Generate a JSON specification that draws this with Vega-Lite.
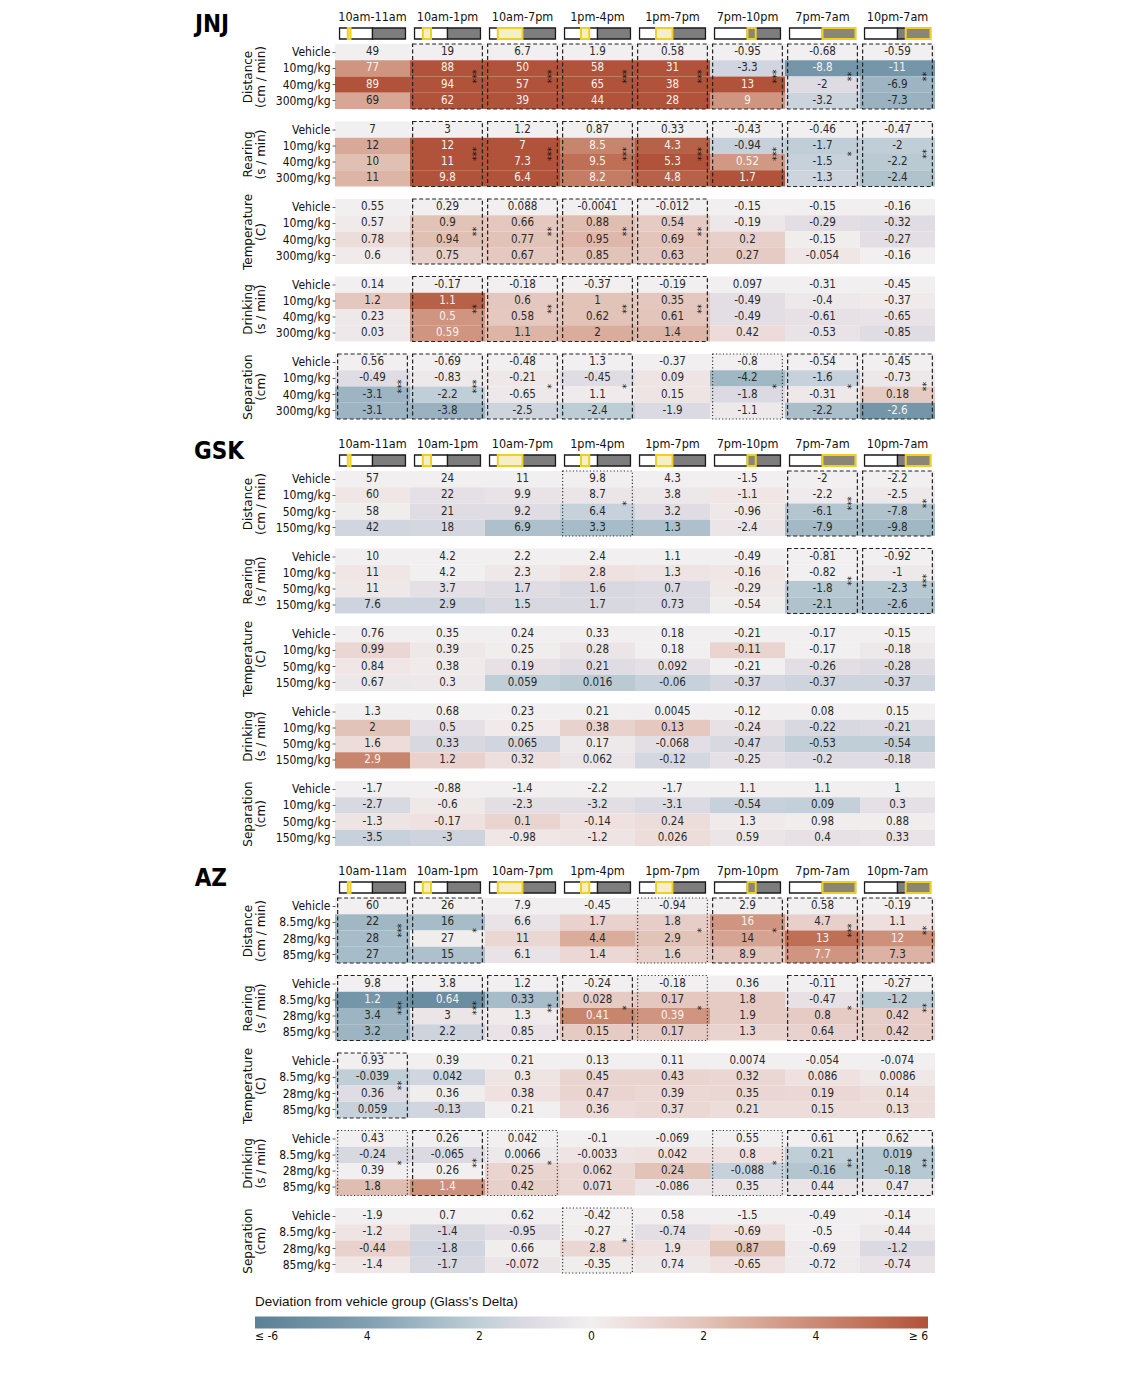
{
"$schema": "https://vega.github.io/schema/vega-lite/v6.json",
"padding": {"left": 193, "top": 10, "right": 10, "bottom": 5},
"background": "white",
"datasets": {
"icons": [
{"t":"10am-11am","k":"light","a":7,"b":19},{"t":"10am-11am","k":"dark","a":19,"b":31},{"t":"10am-11am","k":"wl","a":10,"b":11},
{"t":"10am-1pm","k":"light","a":7,"b":19},{"t":"10am-1pm","k":"dark","a":19,"b":31},{"t":"10am-1pm","k":"wl","a":10,"b":13},
{"t":"10am-7pm","k":"light","a":7,"b":19},{"t":"10am-7pm","k":"dark","a":19,"b":31},{"t":"10am-7pm","k":"wl","a":10,"b":19},
{"t":"1pm-4pm","k":"light","a":7,"b":19},{"t":"1pm-4pm","k":"dark","a":19,"b":31},{"t":"1pm-4pm","k":"wl","a":13,"b":16},
{"t":"1pm-7pm","k":"light","a":7,"b":19},{"t":"1pm-7pm","k":"dark","a":19,"b":31},{"t":"1pm-7pm","k":"wl","a":13,"b":19},
{"t":"7pm-10pm","k":"light","a":7,"b":19},{"t":"7pm-10pm","k":"dark","a":19,"b":31},{"t":"7pm-10pm","k":"wd","a":19,"b":22},
{"t":"7pm-7am","k":"light","a":7,"b":19},{"t":"7pm-7am","k":"dark","a":19,"b":31},{"t":"7pm-7am","k":"wd","a":19,"b":31},
{"t":"10pm-7am","k":"light","a":7,"b":19},{"t":"10pm-7am","k":"dark","a":19,"b":31},{"t":"10pm-7am","k":"wd","a":22,"b":31}
],
"sig": [
{"c":"JNJ","m":"Distance","t":"10am-1pm","lv":"strong","s":"***"},
{"c":"JNJ","m":"Distance","t":"10am-7pm","lv":"strong","s":"***"},
{"c":"JNJ","m":"Distance","t":"1pm-4pm","lv":"strong","s":"***"},
{"c":"JNJ","m":"Distance","t":"1pm-7pm","lv":"strong","s":"***"},
{"c":"JNJ","m":"Distance","t":"7pm-10pm","lv":"strong","s":"***"},
{"c":"JNJ","m":"Distance","t":"7pm-7am","lv":"strong","s":"**"},
{"c":"JNJ","m":"Distance","t":"10pm-7am","lv":"strong","s":"**"},
{"c":"JNJ","m":"Rearing","t":"10am-1pm","lv":"strong","s":"***"},
{"c":"JNJ","m":"Rearing","t":"10am-7pm","lv":"strong","s":"***"},
{"c":"JNJ","m":"Rearing","t":"1pm-4pm","lv":"strong","s":"***"},
{"c":"JNJ","m":"Rearing","t":"1pm-7pm","lv":"strong","s":"***"},
{"c":"JNJ","m":"Rearing","t":"7pm-10pm","lv":"strong","s":"***"},
{"c":"JNJ","m":"Rearing","t":"7pm-7am","lv":"strong","s":"*"},
{"c":"JNJ","m":"Rearing","t":"10pm-7am","lv":"strong","s":"**"},
{"c":"JNJ","m":"Temperature","t":"10am-1pm","lv":"strong","s":"**"},
{"c":"JNJ","m":"Temperature","t":"10am-7pm","lv":"strong","s":"**"},
{"c":"JNJ","m":"Temperature","t":"1pm-4pm","lv":"strong","s":"**"},
{"c":"JNJ","m":"Temperature","t":"1pm-7pm","lv":"strong","s":"**"},
{"c":"JNJ","m":"Drinking","t":"10am-1pm","lv":"strong","s":"**"},
{"c":"JNJ","m":"Drinking","t":"10am-7pm","lv":"strong","s":"**"},
{"c":"JNJ","m":"Drinking","t":"1pm-4pm","lv":"strong","s":"**"},
{"c":"JNJ","m":"Drinking","t":"1pm-7pm","lv":"strong","s":"**"},
{"c":"JNJ","m":"Separation","t":"10am-11am","lv":"strong","s":"***"},
{"c":"JNJ","m":"Separation","t":"10am-1pm","lv":"strong","s":"***"},
{"c":"JNJ","m":"Separation","t":"10am-7pm","lv":"strong","s":"*"},
{"c":"JNJ","m":"Separation","t":"1pm-4pm","lv":"strong","s":"*"},
{"c":"JNJ","m":"Separation","t":"7pm-10pm","lv":"weak","s":"*"},
{"c":"JNJ","m":"Separation","t":"7pm-7am","lv":"strong","s":"*"},
{"c":"JNJ","m":"Separation","t":"10pm-7am","lv":"strong","s":"**"},
{"c":"GSK","m":"Distance","t":"1pm-4pm","lv":"weak","s":"*"},
{"c":"GSK","m":"Distance","t":"7pm-7am","lv":"strong","s":"***"},
{"c":"GSK","m":"Distance","t":"10pm-7am","lv":"strong","s":"**"},
{"c":"GSK","m":"Rearing","t":"7pm-7am","lv":"strong","s":"**"},
{"c":"GSK","m":"Rearing","t":"10pm-7am","lv":"strong","s":"***"},
{"c":"AZ","m":"Distance","t":"10am-11am","lv":"strong","s":"***"},
{"c":"AZ","m":"Distance","t":"10am-1pm","lv":"strong","s":"*"},
{"c":"AZ","m":"Distance","t":"1pm-7pm","lv":"weak","s":"*"},
{"c":"AZ","m":"Distance","t":"7pm-10pm","lv":"strong","s":"*"},
{"c":"AZ","m":"Distance","t":"7pm-7am","lv":"strong","s":"***"},
{"c":"AZ","m":"Distance","t":"10pm-7am","lv":"strong","s":"**"},
{"c":"AZ","m":"Rearing","t":"10am-11am","lv":"strong","s":"***"},
{"c":"AZ","m":"Rearing","t":"10am-1pm","lv":"strong","s":"***"},
{"c":"AZ","m":"Rearing","t":"10am-7pm","lv":"strong","s":"**"},
{"c":"AZ","m":"Rearing","t":"1pm-4pm","lv":"strong","s":"*"},
{"c":"AZ","m":"Rearing","t":"1pm-7pm","lv":"weak","s":"*"},
{"c":"AZ","m":"Rearing","t":"7pm-7am","lv":"strong","s":"*"},
{"c":"AZ","m":"Rearing","t":"10pm-7am","lv":"strong","s":"**"},
{"c":"AZ","m":"Temperature","t":"10am-11am","lv":"strong","s":"**"},
{"c":"AZ","m":"Drinking","t":"10am-11am","lv":"weak","s":"*"},
{"c":"AZ","m":"Drinking","t":"10am-1pm","lv":"strong","s":"**"},
{"c":"AZ","m":"Drinking","t":"10am-7pm","lv":"weak","s":"*"},
{"c":"AZ","m":"Drinking","t":"7pm-10pm","lv":"weak","s":"*"},
{"c":"AZ","m":"Drinking","t":"7pm-7am","lv":"strong","s":"**"},
{"c":"AZ","m":"Drinking","t":"10pm-7am","lv":"strong","s":"**"},
{"c":"AZ","m":"Separation","t":"1pm-4pm","lv":"weak","s":"*"}
],
"cells": [
{"c":"JNJ","m":"Distance","d":"Vehicle","t":"10am-11am","v":49,"g":0},
{"c":"JNJ","m":"Distance","d":"Vehicle","t":"10am-1pm","v":19,"g":0},
{"c":"JNJ","m":"Distance","d":"Vehicle","t":"10am-7pm","v":6.7,"g":0},
{"c":"JNJ","m":"Distance","d":"Vehicle","t":"1pm-4pm","v":1.9,"g":0},
{"c":"JNJ","m":"Distance","d":"Vehicle","t":"1pm-7pm","v":0.58,"g":0},
{"c":"JNJ","m":"Distance","d":"Vehicle","t":"7pm-10pm","v":-0.95,"g":0},
{"c":"JNJ","m":"Distance","d":"Vehicle","t":"7pm-7am","v":-0.68,"g":0},
{"c":"JNJ","m":"Distance","d":"Vehicle","t":"10pm-7am","v":-0.59,"g":0},
{"c":"JNJ","m":"Distance","d":"10mg/kg","t":"10am-11am","v":77,"g":3.6},
{"c":"JNJ","m":"Distance","d":"10mg/kg","t":"10am-1pm","v":88,"g":6},
{"c":"JNJ","m":"Distance","d":"10mg/kg","t":"10am-7pm","v":50,"g":6},
{"c":"JNJ","m":"Distance","d":"10mg/kg","t":"1pm-4pm","v":58,"g":6},
{"c":"JNJ","m":"Distance","d":"10mg/kg","t":"1pm-7pm","v":31,"g":6},
{"c":"JNJ","m":"Distance","d":"10mg/kg","t":"7pm-10pm","v":-3.3,"g":-1.5},
{"c":"JNJ","m":"Distance","d":"10mg/kg","t":"7pm-7am","v":-8.8,"g":-4.6},
{"c":"JNJ","m":"Distance","d":"10mg/kg","t":"10pm-7am","v":-11,"g":-4.6},
{"c":"JNJ","m":"Distance","d":"40mg/kg","t":"10am-11am","v":89,"g":6},
{"c":"JNJ","m":"Distance","d":"40mg/kg","t":"10am-1pm","v":94,"g":6},
{"c":"JNJ","m":"Distance","d":"40mg/kg","t":"10am-7pm","v":57,"g":6},
{"c":"JNJ","m":"Distance","d":"40mg/kg","t":"1pm-4pm","v":65,"g":6},
{"c":"JNJ","m":"Distance","d":"40mg/kg","t":"1pm-7pm","v":38,"g":6},
{"c":"JNJ","m":"Distance","d":"40mg/kg","t":"7pm-10pm","v":13,"g":6},
{"c":"JNJ","m":"Distance","d":"40mg/kg","t":"7pm-7am","v":-2,"g":-1.1},
{"c":"JNJ","m":"Distance","d":"40mg/kg","t":"10pm-7am","v":-6.9,"g":-3.1},
{"c":"JNJ","m":"Distance","d":"300mg/kg","t":"10am-11am","v":69,"g":3.0},
{"c":"JNJ","m":"Distance","d":"300mg/kg","t":"10am-1pm","v":62,"g":6},
{"c":"JNJ","m":"Distance","d":"300mg/kg","t":"10am-7pm","v":39,"g":6},
{"c":"JNJ","m":"Distance","d":"300mg/kg","t":"1pm-4pm","v":44,"g":6},
{"c":"JNJ","m":"Distance","d":"300mg/kg","t":"1pm-7pm","v":28,"g":6},
{"c":"JNJ","m":"Distance","d":"300mg/kg","t":"7pm-10pm","v":9,"g":3.6},
{"c":"JNJ","m":"Distance","d":"300mg/kg","t":"7pm-7am","v":-3.2,"g":-1.7},
{"c":"JNJ","m":"Distance","d":"300mg/kg","t":"10pm-7am","v":-7.3,"g":-3.2},
{"c":"JNJ","m":"Rearing","d":"Vehicle","t":"10am-11am","v":7,"g":0},
{"c":"JNJ","m":"Rearing","d":"Vehicle","t":"10am-1pm","v":3,"g":0},
{"c":"JNJ","m":"Rearing","d":"Vehicle","t":"10am-7pm","v":1.2,"g":0},
{"c":"JNJ","m":"Rearing","d":"Vehicle","t":"1pm-4pm","v":0.87,"g":0},
{"c":"JNJ","m":"Rearing","d":"Vehicle","t":"1pm-7pm","v":0.33,"g":0},
{"c":"JNJ","m":"Rearing","d":"Vehicle","t":"7pm-10pm","v":-0.43,"g":0},
{"c":"JNJ","m":"Rearing","d":"Vehicle","t":"7pm-7am","v":-0.46,"g":0},
{"c":"JNJ","m":"Rearing","d":"Vehicle","t":"10pm-7am","v":-0.47,"g":0},
{"c":"JNJ","m":"Rearing","d":"10mg/kg","t":"10am-11am","v":12,"g":2.9},
{"c":"JNJ","m":"Rearing","d":"10mg/kg","t":"10am-1pm","v":12,"g":6},
{"c":"JNJ","m":"Rearing","d":"10mg/kg","t":"10am-7pm","v":7,"g":6},
{"c":"JNJ","m":"Rearing","d":"10mg/kg","t":"1pm-4pm","v":8.5,"g":4.2},
{"c":"JNJ","m":"Rearing","d":"10mg/kg","t":"1pm-7pm","v":4.3,"g":5.5},
{"c":"JNJ","m":"Rearing","d":"10mg/kg","t":"7pm-10pm","v":-0.94,"g":-1.8},
{"c":"JNJ","m":"Rearing","d":"10mg/kg","t":"7pm-7am","v":-1.7,"g":-2.0},
{"c":"JNJ","m":"Rearing","d":"10mg/kg","t":"10pm-7am","v":-2,"g":-2.0},
{"c":"JNJ","m":"Rearing","d":"40mg/kg","t":"10am-11am","v":10,"g":2.1},
{"c":"JNJ","m":"Rearing","d":"40mg/kg","t":"10am-1pm","v":11,"g":6},
{"c":"JNJ","m":"Rearing","d":"40mg/kg","t":"10am-7pm","v":7.3,"g":6},
{"c":"JNJ","m":"Rearing","d":"40mg/kg","t":"1pm-4pm","v":9.5,"g":5.0},
{"c":"JNJ","m":"Rearing","d":"40mg/kg","t":"1pm-7pm","v":5.3,"g":6},
{"c":"JNJ","m":"Rearing","d":"40mg/kg","t":"7pm-10pm","v":0.52,"g":3.5},
{"c":"JNJ","m":"Rearing","d":"40mg/kg","t":"7pm-7am","v":-1.5,"g":-1.8},
{"c":"JNJ","m":"Rearing","d":"40mg/kg","t":"10pm-7am","v":-2.2,"g":-2.2},
{"c":"JNJ","m":"Rearing","d":"300mg/kg","t":"10am-11am","v":11,"g":2.5},
{"c":"JNJ","m":"Rearing","d":"300mg/kg","t":"10am-1pm","v":9.8,"g":6},
{"c":"JNJ","m":"Rearing","d":"300mg/kg","t":"10am-7pm","v":6.4,"g":6},
{"c":"JNJ","m":"Rearing","d":"300mg/kg","t":"1pm-4pm","v":8.2,"g":4.5},
{"c":"JNJ","m":"Rearing","d":"300mg/kg","t":"1pm-7pm","v":4.8,"g":5.5},
{"c":"JNJ","m":"Rearing","d":"300mg/kg","t":"7pm-10pm","v":1.7,"g":6},
{"c":"JNJ","m":"Rearing","d":"300mg/kg","t":"7pm-7am","v":-1.3,"g":-1.6},
{"c":"JNJ","m":"Rearing","d":"300mg/kg","t":"10pm-7am","v":-2.4,"g":-2.5},
{"c":"JNJ","m":"Temperature","d":"Vehicle","t":"10am-11am","v":0.55,"g":0},
{"c":"JNJ","m":"Temperature","d":"Vehicle","t":"10am-1pm","v":0.29,"g":0},
{"c":"JNJ","m":"Temperature","d":"Vehicle","t":"10am-7pm","v":0.088,"g":0},
{"c":"JNJ","m":"Temperature","d":"Vehicle","t":"1pm-4pm","v":-0.0041,"g":0},
{"c":"JNJ","m":"Temperature","d":"Vehicle","t":"1pm-7pm","v":-0.012,"g":0},
{"c":"JNJ","m":"Temperature","d":"Vehicle","t":"7pm-10pm","v":-0.15,"g":0},
{"c":"JNJ","m":"Temperature","d":"Vehicle","t":"7pm-7am","v":-0.15,"g":0},
{"c":"JNJ","m":"Temperature","d":"Vehicle","t":"10pm-7am","v":-0.16,"g":0},
{"c":"JNJ","m":"Temperature","d":"10mg/kg","t":"10am-11am","v":0.57,"g":0.2},
{"c":"JNJ","m":"Temperature","d":"10mg/kg","t":"10am-1pm","v":0.9,"g":2.0},
{"c":"JNJ","m":"Temperature","d":"10mg/kg","t":"10am-7pm","v":0.66,"g":1.8},
{"c":"JNJ","m":"Temperature","d":"10mg/kg","t":"1pm-4pm","v":0.88,"g":2.2},
{"c":"JNJ","m":"Temperature","d":"10mg/kg","t":"1pm-7pm","v":0.54,"g":1.6},
{"c":"JNJ","m":"Temperature","d":"10mg/kg","t":"7pm-10pm","v":-0.19,"g":-0.4},
{"c":"JNJ","m":"Temperature","d":"10mg/kg","t":"7pm-7am","v":-0.29,"g":-0.9},
{"c":"JNJ","m":"Temperature","d":"10mg/kg","t":"10pm-7am","v":-0.32,"g":-1.0},
{"c":"JNJ","m":"Temperature","d":"40mg/kg","t":"10am-11am","v":0.78,"g":0.8},
{"c":"JNJ","m":"Temperature","d":"40mg/kg","t":"10am-1pm","v":0.94,"g":2.1},
{"c":"JNJ","m":"Temperature","d":"40mg/kg","t":"10am-7pm","v":0.77,"g":2.0},
{"c":"JNJ","m":"Temperature","d":"40mg/kg","t":"1pm-4pm","v":0.95,"g":2.4},
{"c":"JNJ","m":"Temperature","d":"40mg/kg","t":"1pm-7pm","v":0.69,"g":1.9},
{"c":"JNJ","m":"Temperature","d":"40mg/kg","t":"7pm-10pm","v":0.2,"g":1.4},
{"c":"JNJ","m":"Temperature","d":"40mg/kg","t":"7pm-7am","v":-0.15,"g":0.1},
{"c":"JNJ","m":"Temperature","d":"40mg/kg","t":"10pm-7am","v":-0.27,"g":-0.9},
{"c":"JNJ","m":"Temperature","d":"300mg/kg","t":"10am-11am","v":0.6,"g":0.2},
{"c":"JNJ","m":"Temperature","d":"300mg/kg","t":"10am-1pm","v":0.75,"g":1.4},
{"c":"JNJ","m":"Temperature","d":"300mg/kg","t":"10am-7pm","v":0.67,"g":1.7},
{"c":"JNJ","m":"Temperature","d":"300mg/kg","t":"1pm-4pm","v":0.85,"g":2.0},
{"c":"JNJ","m":"Temperature","d":"300mg/kg","t":"1pm-7pm","v":0.63,"g":1.8},
{"c":"JNJ","m":"Temperature","d":"300mg/kg","t":"7pm-10pm","v":0.27,"g":1.6},
{"c":"JNJ","m":"Temperature","d":"300mg/kg","t":"7pm-7am","v":-0.054,"g":0.4},
{"c":"JNJ","m":"Temperature","d":"300mg/kg","t":"10pm-7am","v":-0.16,"g":0},
{"c":"JNJ","m":"Drinking","d":"Vehicle","t":"10am-11am","v":0.14,"g":0},
{"c":"JNJ","m":"Drinking","d":"Vehicle","t":"10am-1pm","v":-0.17,"g":0},
{"c":"JNJ","m":"Drinking","d":"Vehicle","t":"10am-7pm","v":-0.18,"g":0},
{"c":"JNJ","m":"Drinking","d":"Vehicle","t":"1pm-4pm","v":-0.37,"g":0},
{"c":"JNJ","m":"Drinking","d":"Vehicle","t":"1pm-7pm","v":-0.19,"g":0},
{"c":"JNJ","m":"Drinking","d":"Vehicle","t":"7pm-10pm","v":0.097,"g":0},
{"c":"JNJ","m":"Drinking","d":"Vehicle","t":"7pm-7am","v":-0.31,"g":0},
{"c":"JNJ","m":"Drinking","d":"Vehicle","t":"10pm-7am","v":-0.45,"g":0},
{"c":"JNJ","m":"Drinking","d":"10mg/kg","t":"10am-11am","v":1.2,"g":1.8},
{"c":"JNJ","m":"Drinking","d":"10mg/kg","t":"10am-1pm","v":1.1,"g":5.5},
{"c":"JNJ","m":"Drinking","d":"10mg/kg","t":"10am-7pm","v":0.6,"g":1.8},
{"c":"JNJ","m":"Drinking","d":"10mg/kg","t":"1pm-4pm","v":1,"g":2.0},
{"c":"JNJ","m":"Drinking","d":"10mg/kg","t":"1pm-7pm","v":0.35,"g":1.8},
{"c":"JNJ","m":"Drinking","d":"10mg/kg","t":"7pm-10pm","v":-0.49,"g":-0.9},
{"c":"JNJ","m":"Drinking","d":"10mg/kg","t":"7pm-7am","v":-0.4,"g":-0.3},
{"c":"JNJ","m":"Drinking","d":"10mg/kg","t":"10pm-7am","v":-0.37,"g":0.2},
{"c":"JNJ","m":"Drinking","d":"40mg/kg","t":"10am-11am","v":0.23,"g":0.3},
{"c":"JNJ","m":"Drinking","d":"40mg/kg","t":"10am-1pm","v":0.5,"g":3.6},
{"c":"JNJ","m":"Drinking","d":"40mg/kg","t":"10am-7pm","v":0.58,"g":1.7},
{"c":"JNJ","m":"Drinking","d":"40mg/kg","t":"1pm-4pm","v":0.62,"g":2.0},
{"c":"JNJ","m":"Drinking","d":"40mg/kg","t":"1pm-7pm","v":0.61,"g":1.9},
{"c":"JNJ","m":"Drinking","d":"40mg/kg","t":"7pm-10pm","v":-0.49,"g":-0.9},
{"c":"JNJ","m":"Drinking","d":"40mg/kg","t":"7pm-7am","v":-0.61,"g":-0.7},
{"c":"JNJ","m":"Drinking","d":"40mg/kg","t":"10pm-7am","v":-0.65,"g":-0.6},
{"c":"JNJ","m":"Drinking","d":"300mg/kg","t":"10am-11am","v":0.03,"g":-0.3},
{"c":"JNJ","m":"Drinking","d":"300mg/kg","t":"10am-1pm","v":0.59,"g":3.6},
{"c":"JNJ","m":"Drinking","d":"300mg/kg","t":"10am-7pm","v":1.1,"g":2.5},
{"c":"JNJ","m":"Drinking","d":"300mg/kg","t":"1pm-4pm","v":2,"g":2.8},
{"c":"JNJ","m":"Drinking","d":"300mg/kg","t":"1pm-7pm","v":1.4,"g":2.5},
{"c":"JNJ","m":"Drinking","d":"300mg/kg","t":"7pm-10pm","v":0.42,"g":0.9},
{"c":"JNJ","m":"Drinking","d":"300mg/kg","t":"7pm-7am","v":-0.53,"g":-0.6},
{"c":"JNJ","m":"Drinking","d":"300mg/kg","t":"10pm-7am","v":-0.85,"g":-1.0},
{"c":"JNJ","m":"Separation","d":"Vehicle","t":"10am-11am","v":0.56,"g":0},
{"c":"JNJ","m":"Separation","d":"Vehicle","t":"10am-1pm","v":-0.69,"g":0},
{"c":"JNJ","m":"Separation","d":"Vehicle","t":"10am-7pm","v":-0.48,"g":0},
{"c":"JNJ","m":"Separation","d":"Vehicle","t":"1pm-4pm","v":1.3,"g":0},
{"c":"JNJ","m":"Separation","d":"Vehicle","t":"1pm-7pm","v":-0.37,"g":0},
{"c":"JNJ","m":"Separation","d":"Vehicle","t":"7pm-10pm","v":-0.8,"g":0},
{"c":"JNJ","m":"Separation","d":"Vehicle","t":"7pm-7am","v":-0.54,"g":0},
{"c":"JNJ","m":"Separation","d":"Vehicle","t":"10pm-7am","v":-0.45,"g":0},
{"c":"JNJ","m":"Separation","d":"10mg/kg","t":"10am-11am","v":-0.49,"g":-1.0},
{"c":"JNJ","m":"Separation","d":"10mg/kg","t":"10am-1pm","v":-0.83,"g":-0.3},
{"c":"JNJ","m":"Separation","d":"10mg/kg","t":"10am-7pm","v":-0.21,"g":0.3},
{"c":"JNJ","m":"Separation","d":"10mg/kg","t":"1pm-4pm","v":-0.45,"g":-1.0},
{"c":"JNJ","m":"Separation","d":"10mg/kg","t":"1pm-7pm","v":0.09,"g":0.5},
{"c":"JNJ","m":"Separation","d":"10mg/kg","t":"7pm-10pm","v":-4.2,"g":-3.0},
{"c":"JNJ","m":"Separation","d":"10mg/kg","t":"7pm-7am","v":-1.6,"g":-1.8},
{"c":"JNJ","m":"Separation","d":"10mg/kg","t":"10pm-7am","v":-0.73,"g":-0.4},
{"c":"JNJ","m":"Separation","d":"40mg/kg","t":"10am-11am","v":-3.1,"g":-3.1},
{"c":"JNJ","m":"Separation","d":"40mg/kg","t":"10am-1pm","v":-2.2,"g":-2.0},
{"c":"JNJ","m":"Separation","d":"40mg/kg","t":"10am-7pm","v":-0.65,"g":-0.3},
{"c":"JNJ","m":"Separation","d":"40mg/kg","t":"1pm-4pm","v":1.1,"g":-0.2},
{"c":"JNJ","m":"Separation","d":"40mg/kg","t":"1pm-7pm","v":0.15,"g":0.5},
{"c":"JNJ","m":"Separation","d":"40mg/kg","t":"7pm-10pm","v":-1.8,"g":-1.2},
{"c":"JNJ","m":"Separation","d":"40mg/kg","t":"7pm-7am","v":-0.31,"g":0.3},
{"c":"JNJ","m":"Separation","d":"40mg/kg","t":"10pm-7am","v":0.18,"g":1.6},
{"c":"JNJ","m":"Separation","d":"300mg/kg","t":"10am-11am","v":-3.1,"g":-3.1},
{"c":"JNJ","m":"Separation","d":"300mg/kg","t":"10am-1pm","v":-3.8,"g":-3.2},
{"c":"JNJ","m":"Separation","d":"300mg/kg","t":"10am-7pm","v":-2.5,"g":-1.6},
{"c":"JNJ","m":"Separation","d":"300mg/kg","t":"1pm-4pm","v":-2.4,"g":-2.1},
{"c":"JNJ","m":"Separation","d":"300mg/kg","t":"1pm-7pm","v":-1.9,"g":-1.2},
{"c":"JNJ","m":"Separation","d":"300mg/kg","t":"7pm-10pm","v":-1.1,"g":-0.3},
{"c":"JNJ","m":"Separation","d":"300mg/kg","t":"7pm-7am","v":-2.2,"g":-2.7},
{"c":"JNJ","m":"Separation","d":"300mg/kg","t":"10pm-7am","v":-2.6,"g":-4.6},
{"c":"GSK","m":"Distance","d":"Vehicle","t":"10am-11am","v":57,"g":0},
{"c":"GSK","m":"Distance","d":"Vehicle","t":"10am-1pm","v":24,"g":0},
{"c":"GSK","m":"Distance","d":"Vehicle","t":"10am-7pm","v":11,"g":0},
{"c":"GSK","m":"Distance","d":"Vehicle","t":"1pm-4pm","v":9.8,"g":0},
{"c":"GSK","m":"Distance","d":"Vehicle","t":"1pm-7pm","v":4.3,"g":0},
{"c":"GSK","m":"Distance","d":"Vehicle","t":"7pm-10pm","v":-1.5,"g":0},
{"c":"GSK","m":"Distance","d":"Vehicle","t":"7pm-7am","v":-2,"g":0},
{"c":"GSK","m":"Distance","d":"Vehicle","t":"10pm-7am","v":-2.2,"g":0},
{"c":"GSK","m":"Distance","d":"10mg/kg","t":"10am-11am","v":60,"g":0.4},
{"c":"GSK","m":"Distance","d":"10mg/kg","t":"10am-1pm","v":22,"g":-0.8},
{"c":"GSK","m":"Distance","d":"10mg/kg","t":"10am-7pm","v":9.9,"g":-0.6},
{"c":"GSK","m":"Distance","d":"10mg/kg","t":"1pm-4pm","v":8.7,"g":-0.5},
{"c":"GSK","m":"Distance","d":"10mg/kg","t":"1pm-7pm","v":3.8,"g":-0.4},
{"c":"GSK","m":"Distance","d":"10mg/kg","t":"7pm-10pm","v":-1.1,"g":0.4},
{"c":"GSK","m":"Distance","d":"10mg/kg","t":"7pm-7am","v":-2.2,"g":-0.2},
{"c":"GSK","m":"Distance","d":"10mg/kg","t":"10pm-7am","v":-2.5,"g":-0.3},
{"c":"GSK","m":"Distance","d":"50mg/kg","t":"10am-11am","v":58,"g":0.1},
{"c":"GSK","m":"Distance","d":"50mg/kg","t":"10am-1pm","v":21,"g":-1.0},
{"c":"GSK","m":"Distance","d":"50mg/kg","t":"10am-7pm","v":9.2,"g":-1.0},
{"c":"GSK","m":"Distance","d":"50mg/kg","t":"1pm-4pm","v":6.4,"g":-1.8},
{"c":"GSK","m":"Distance","d":"50mg/kg","t":"1pm-7pm","v":3.2,"g":-1.0},
{"c":"GSK","m":"Distance","d":"50mg/kg","t":"7pm-10pm","v":-0.96,"g":0.3},
{"c":"GSK","m":"Distance","d":"50mg/kg","t":"7pm-7am","v":-6.1,"g":-2.4},
{"c":"GSK","m":"Distance","d":"50mg/kg","t":"10pm-7am","v":-7.8,"g":-2.5},
{"c":"GSK","m":"Distance","d":"150mg/kg","t":"10am-11am","v":42,"g":-1.5},
{"c":"GSK","m":"Distance","d":"150mg/kg","t":"10am-1pm","v":18,"g":-1.4},
{"c":"GSK","m":"Distance","d":"150mg/kg","t":"10am-7pm","v":6.9,"g":-2.6},
{"c":"GSK","m":"Distance","d":"150mg/kg","t":"1pm-4pm","v":3.3,"g":-2.8},
{"c":"GSK","m":"Distance","d":"150mg/kg","t":"1pm-7pm","v":1.3,"g":-2.6},
{"c":"GSK","m":"Distance","d":"150mg/kg","t":"7pm-10pm","v":-2.4,"g":-0.5},
{"c":"GSK","m":"Distance","d":"150mg/kg","t":"7pm-7am","v":-7.9,"g":-2.9},
{"c":"GSK","m":"Distance","d":"150mg/kg","t":"10pm-7am","v":-9.8,"g":-3.0},
{"c":"GSK","m":"Rearing","d":"Vehicle","t":"10am-11am","v":10,"g":0},
{"c":"GSK","m":"Rearing","d":"Vehicle","t":"10am-1pm","v":4.2,"g":0},
{"c":"GSK","m":"Rearing","d":"Vehicle","t":"10am-7pm","v":2.2,"g":0},
{"c":"GSK","m":"Rearing","d":"Vehicle","t":"1pm-4pm","v":2.4,"g":0},
{"c":"GSK","m":"Rearing","d":"Vehicle","t":"1pm-7pm","v":1.1,"g":0},
{"c":"GSK","m":"Rearing","d":"Vehicle","t":"7pm-10pm","v":-0.49,"g":0},
{"c":"GSK","m":"Rearing","d":"Vehicle","t":"7pm-7am","v":-0.81,"g":0},
{"c":"GSK","m":"Rearing","d":"Vehicle","t":"10pm-7am","v":-0.92,"g":0},
{"c":"GSK","m":"Rearing","d":"10mg/kg","t":"10am-11am","v":11,"g":0.4},
{"c":"GSK","m":"Rearing","d":"10mg/kg","t":"10am-1pm","v":4.2,"g":0},
{"c":"GSK","m":"Rearing","d":"10mg/kg","t":"10am-7pm","v":2.3,"g":0.3},
{"c":"GSK","m":"Rearing","d":"10mg/kg","t":"1pm-4pm","v":2.8,"g":0.6},
{"c":"GSK","m":"Rearing","d":"10mg/kg","t":"1pm-7pm","v":1.3,"g":0.5},
{"c":"GSK","m":"Rearing","d":"10mg/kg","t":"7pm-10pm","v":-0.16,"g":0.4},
{"c":"GSK","m":"Rearing","d":"10mg/kg","t":"7pm-7am","v":-0.82,"g":0},
{"c":"GSK","m":"Rearing","d":"10mg/kg","t":"10pm-7am","v":-1,"g":-0.3},
{"c":"GSK","m":"Rearing","d":"50mg/kg","t":"10am-11am","v":11,"g":0.3},
{"c":"GSK","m":"Rearing","d":"50mg/kg","t":"10am-1pm","v":3.7,"g":-0.8},
{"c":"GSK","m":"Rearing","d":"50mg/kg","t":"10am-7pm","v":1.7,"g":-1.0},
{"c":"GSK","m":"Rearing","d":"50mg/kg","t":"1pm-4pm","v":1.6,"g":-1.3},
{"c":"GSK","m":"Rearing","d":"50mg/kg","t":"1pm-7pm","v":0.7,"g":-1.2},
{"c":"GSK","m":"Rearing","d":"50mg/kg","t":"7pm-10pm","v":-0.29,"g":0.3},
{"c":"GSK","m":"Rearing","d":"50mg/kg","t":"7pm-7am","v":-1.8,"g":-2.3},
{"c":"GSK","m":"Rearing","d":"50mg/kg","t":"10pm-7am","v":-2.3,"g":-2.3},
{"c":"GSK","m":"Rearing","d":"150mg/kg","t":"10am-11am","v":7.6,"g":-1.6},
{"c":"GSK","m":"Rearing","d":"150mg/kg","t":"10am-1pm","v":2.9,"g":-1.6},
{"c":"GSK","m":"Rearing","d":"150mg/kg","t":"10am-7pm","v":1.5,"g":-1.3},
{"c":"GSK","m":"Rearing","d":"150mg/kg","t":"1pm-4pm","v":1.7,"g":-1.3},
{"c":"GSK","m":"Rearing","d":"150mg/kg","t":"1pm-7pm","v":0.73,"g":-1.2},
{"c":"GSK","m":"Rearing","d":"150mg/kg","t":"7pm-10pm","v":-0.54,"g":-0.1},
{"c":"GSK","m":"Rearing","d":"150mg/kg","t":"7pm-7am","v":-2.1,"g":-2.5},
{"c":"GSK","m":"Rearing","d":"150mg/kg","t":"10pm-7am","v":-2.6,"g":-2.6},
{"c":"GSK","m":"Temperature","d":"Vehicle","t":"10am-11am","v":0.76,"g":0},
{"c":"GSK","m":"Temperature","d":"Vehicle","t":"10am-1pm","v":0.35,"g":0},
{"c":"GSK","m":"Temperature","d":"Vehicle","t":"10am-7pm","v":0.24,"g":0},
{"c":"GSK","m":"Temperature","d":"Vehicle","t":"1pm-4pm","v":0.33,"g":0},
{"c":"GSK","m":"Temperature","d":"Vehicle","t":"1pm-7pm","v":0.18,"g":0},
{"c":"GSK","m":"Temperature","d":"Vehicle","t":"7pm-10pm","v":-0.21,"g":0},
{"c":"GSK","m":"Temperature","d":"Vehicle","t":"7pm-7am","v":-0.17,"g":0},
{"c":"GSK","m":"Temperature","d":"Vehicle","t":"10pm-7am","v":-0.15,"g":0},
{"c":"GSK","m":"Temperature","d":"10mg/kg","t":"10am-11am","v":0.99,"g":1.1},
{"c":"GSK","m":"Temperature","d":"10mg/kg","t":"10am-1pm","v":0.39,"g":0.3},
{"c":"GSK","m":"Temperature","d":"10mg/kg","t":"10am-7pm","v":0.25,"g":0.1},
{"c":"GSK","m":"Temperature","d":"10mg/kg","t":"1pm-4pm","v":0.28,"g":-0.5},
{"c":"GSK","m":"Temperature","d":"10mg/kg","t":"1pm-7pm","v":0.18,"g":0},
{"c":"GSK","m":"Temperature","d":"10mg/kg","t":"7pm-10pm","v":-0.11,"g":1.2},
{"c":"GSK","m":"Temperature","d":"10mg/kg","t":"7pm-7am","v":-0.17,"g":0},
{"c":"GSK","m":"Temperature","d":"10mg/kg","t":"10pm-7am","v":-0.18,"g":-0.3},
{"c":"GSK","m":"Temperature","d":"50mg/kg","t":"10am-11am","v":0.84,"g":0.4},
{"c":"GSK","m":"Temperature","d":"50mg/kg","t":"10am-1pm","v":0.38,"g":0.2},
{"c":"GSK","m":"Temperature","d":"50mg/kg","t":"10am-7pm","v":0.19,"g":-0.7},
{"c":"GSK","m":"Temperature","d":"50mg/kg","t":"1pm-4pm","v":0.21,"g":-1.0},
{"c":"GSK","m":"Temperature","d":"50mg/kg","t":"1pm-7pm","v":0.092,"g":-0.8},
{"c":"GSK","m":"Temperature","d":"50mg/kg","t":"7pm-10pm","v":-0.21,"g":0},
{"c":"GSK","m":"Temperature","d":"50mg/kg","t":"7pm-7am","v":-0.26,"g":-0.9},
{"c":"GSK","m":"Temperature","d":"50mg/kg","t":"10pm-7am","v":-0.28,"g":-1.1},
{"c":"GSK","m":"Temperature","d":"150mg/kg","t":"10am-11am","v":0.67,"g":-0.4},
{"c":"GSK","m":"Temperature","d":"150mg/kg","t":"10am-1pm","v":0.3,"g":-0.3},
{"c":"GSK","m":"Temperature","d":"150mg/kg","t":"10am-7pm","v":0.059,"g":-2.0},
{"c":"GSK","m":"Temperature","d":"150mg/kg","t":"1pm-4pm","v":0.016,"g":-2.2},
{"c":"GSK","m":"Temperature","d":"150mg/kg","t":"1pm-7pm","v":-0.06,"g":-1.8},
{"c":"GSK","m":"Temperature","d":"150mg/kg","t":"7pm-10pm","v":-0.37,"g":-1.4},
{"c":"GSK","m":"Temperature","d":"150mg/kg","t":"7pm-7am","v":-0.37,"g":-1.6},
{"c":"GSK","m":"Temperature","d":"150mg/kg","t":"10pm-7am","v":-0.37,"g":-1.6},
{"c":"GSK","m":"Drinking","d":"Vehicle","t":"10am-11am","v":1.3,"g":0},
{"c":"GSK","m":"Drinking","d":"Vehicle","t":"10am-1pm","v":0.68,"g":0},
{"c":"GSK","m":"Drinking","d":"Vehicle","t":"10am-7pm","v":0.23,"g":0},
{"c":"GSK","m":"Drinking","d":"Vehicle","t":"1pm-4pm","v":0.21,"g":0},
{"c":"GSK","m":"Drinking","d":"Vehicle","t":"1pm-7pm","v":0.0045,"g":0},
{"c":"GSK","m":"Drinking","d":"Vehicle","t":"7pm-10pm","v":-0.12,"g":0},
{"c":"GSK","m":"Drinking","d":"Vehicle","t":"7pm-7am","v":0.08,"g":0},
{"c":"GSK","m":"Drinking","d":"Vehicle","t":"10pm-7am","v":0.15,"g":0},
{"c":"GSK","m":"Drinking","d":"10mg/kg","t":"10am-11am","v":2,"g":2.0},
{"c":"GSK","m":"Drinking","d":"10mg/kg","t":"10am-1pm","v":0.5,"g":-0.8},
{"c":"GSK","m":"Drinking","d":"10mg/kg","t":"10am-7pm","v":0.25,"g":0.2},
{"c":"GSK","m":"Drinking","d":"10mg/kg","t":"1pm-4pm","v":0.38,"g":1.3},
{"c":"GSK","m":"Drinking","d":"10mg/kg","t":"1pm-7pm","v":0.13,"g":1.7},
{"c":"GSK","m":"Drinking","d":"10mg/kg","t":"7pm-10pm","v":-0.24,"g":-0.7},
{"c":"GSK","m":"Drinking","d":"10mg/kg","t":"7pm-7am","v":-0.22,"g":-1.3},
{"c":"GSK","m":"Drinking","d":"10mg/kg","t":"10pm-7am","v":-0.21,"g":-1.2},
{"c":"GSK","m":"Drinking","d":"50mg/kg","t":"10am-11am","v":1.6,"g":0.8},
{"c":"GSK","m":"Drinking","d":"50mg/kg","t":"10am-1pm","v":0.33,"g":-1.3},
{"c":"GSK","m":"Drinking","d":"50mg/kg","t":"10am-7pm","v":0.065,"g":-1.5},
{"c":"GSK","m":"Drinking","d":"50mg/kg","t":"1pm-4pm","v":0.17,"g":-0.3},
{"c":"GSK","m":"Drinking","d":"50mg/kg","t":"1pm-7pm","v":-0.068,"g":-0.9},
{"c":"GSK","m":"Drinking","d":"50mg/kg","t":"7pm-10pm","v":-0.47,"g":-1.3},
{"c":"GSK","m":"Drinking","d":"50mg/kg","t":"7pm-7am","v":-0.53,"g":-2.0},
{"c":"GSK","m":"Drinking","d":"50mg/kg","t":"10pm-7am","v":-0.54,"g":-2.0},
{"c":"GSK","m":"Drinking","d":"150mg/kg","t":"10am-11am","v":2.9,"g":4.2},
{"c":"GSK","m":"Drinking","d":"150mg/kg","t":"10am-1pm","v":1.2,"g":1.3},
{"c":"GSK","m":"Drinking","d":"150mg/kg","t":"10am-7pm","v":0.32,"g":0.7},
{"c":"GSK","m":"Drinking","d":"150mg/kg","t":"1pm-4pm","v":0.062,"g":-0.5},
{"c":"GSK","m":"Drinking","d":"150mg/kg","t":"1pm-7pm","v":-0.12,"g":-1.4},
{"c":"GSK","m":"Drinking","d":"150mg/kg","t":"7pm-10pm","v":-0.25,"g":-0.8},
{"c":"GSK","m":"Drinking","d":"150mg/kg","t":"7pm-7am","v":-0.2,"g":-1.0},
{"c":"GSK","m":"Drinking","d":"150mg/kg","t":"10pm-7am","v":-0.18,"g":-1.0},
{"c":"GSK","m":"Separation","d":"Vehicle","t":"10am-11am","v":-1.7,"g":0},
{"c":"GSK","m":"Separation","d":"Vehicle","t":"10am-1pm","v":-0.88,"g":0},
{"c":"GSK","m":"Separation","d":"Vehicle","t":"10am-7pm","v":-1.4,"g":0},
{"c":"GSK","m":"Separation","d":"Vehicle","t":"1pm-4pm","v":-2.2,"g":0},
{"c":"GSK","m":"Separation","d":"Vehicle","t":"1pm-7pm","v":-1.7,"g":0},
{"c":"GSK","m":"Separation","d":"Vehicle","t":"7pm-10pm","v":1.1,"g":0},
{"c":"GSK","m":"Separation","d":"Vehicle","t":"7pm-7am","v":1.1,"g":0},
{"c":"GSK","m":"Separation","d":"Vehicle","t":"10pm-7am","v":1,"g":0},
{"c":"GSK","m":"Separation","d":"10mg/kg","t":"10am-11am","v":-2.7,"g":-1.3},
{"c":"GSK","m":"Separation","d":"10mg/kg","t":"10am-1pm","v":-0.6,"g":0.3},
{"c":"GSK","m":"Separation","d":"10mg/kg","t":"10am-7pm","v":-2.3,"g":-0.9},
{"c":"GSK","m":"Separation","d":"10mg/kg","t":"1pm-4pm","v":-3.2,"g":-0.9},
{"c":"GSK","m":"Separation","d":"10mg/kg","t":"1pm-7pm","v":-3.1,"g":-1.2},
{"c":"GSK","m":"Separation","d":"10mg/kg","t":"7pm-10pm","v":-0.54,"g":-1.8},
{"c":"GSK","m":"Separation","d":"10mg/kg","t":"7pm-7am","v":0.09,"g":-1.9},
{"c":"GSK","m":"Separation","d":"10mg/kg","t":"10pm-7am","v":0.3,"g":-0.8},
{"c":"GSK","m":"Separation","d":"50mg/kg","t":"10am-11am","v":-1.3,"g":0.5},
{"c":"GSK","m":"Separation","d":"50mg/kg","t":"10am-1pm","v":-0.17,"g":0.6},
{"c":"GSK","m":"Separation","d":"50mg/kg","t":"10am-7pm","v":0.1,"g":1.2},
{"c":"GSK","m":"Separation","d":"50mg/kg","t":"1pm-4pm","v":-0.14,"g":0.6},
{"c":"GSK","m":"Separation","d":"50mg/kg","t":"1pm-7pm","v":0.24,"g":0.8},
{"c":"GSK","m":"Separation","d":"50mg/kg","t":"7pm-10pm","v":1.3,"g":0.2},
{"c":"GSK","m":"Separation","d":"50mg/kg","t":"7pm-7am","v":0.98,"g":-0.1},
{"c":"GSK","m":"Separation","d":"50mg/kg","t":"10pm-7am","v":0.88,"g":-0.1},
{"c":"GSK","m":"Separation","d":"150mg/kg","t":"10am-11am","v":-3.5,"g":-1.8},
{"c":"GSK","m":"Separation","d":"150mg/kg","t":"10am-1pm","v":-3,"g":-1.6},
{"c":"GSK","m":"Separation","d":"150mg/kg","t":"10am-7pm","v":-0.98,"g":0.4},
{"c":"GSK","m":"Separation","d":"150mg/kg","t":"1pm-4pm","v":-1.2,"g":0.5},
{"c":"GSK","m":"Separation","d":"150mg/kg","t":"1pm-7pm","v":0.026,"g":0.8},
{"c":"GSK","m":"Separation","d":"150mg/kg","t":"7pm-10pm","v":0.59,"g":-0.5},
{"c":"GSK","m":"Separation","d":"150mg/kg","t":"7pm-7am","v":0.4,"g":-0.7},
{"c":"GSK","m":"Separation","d":"150mg/kg","t":"10pm-7am","v":0.33,"g":-0.6},
{"c":"AZ","m":"Distance","d":"Vehicle","t":"10am-11am","v":60,"g":0},
{"c":"AZ","m":"Distance","d":"Vehicle","t":"10am-1pm","v":26,"g":0},
{"c":"AZ","m":"Distance","d":"Vehicle","t":"10am-7pm","v":7.9,"g":0},
{"c":"AZ","m":"Distance","d":"Vehicle","t":"1pm-4pm","v":-0.45,"g":0},
{"c":"AZ","m":"Distance","d":"Vehicle","t":"1pm-7pm","v":-0.94,"g":0},
{"c":"AZ","m":"Distance","d":"Vehicle","t":"7pm-10pm","v":2.9,"g":0},
{"c":"AZ","m":"Distance","d":"Vehicle","t":"7pm-7am","v":0.58,"g":0},
{"c":"AZ","m":"Distance","d":"Vehicle","t":"10pm-7am","v":-0.19,"g":0},
{"c":"AZ","m":"Distance","d":"8.5mg/kg","t":"10am-11am","v":22,"g":-3.0},
{"c":"AZ","m":"Distance","d":"8.5mg/kg","t":"10am-1pm","v":16,"g":-2.8},
{"c":"AZ","m":"Distance","d":"8.5mg/kg","t":"10am-7pm","v":6.6,"g":-0.6},
{"c":"AZ","m":"Distance","d":"8.5mg/kg","t":"1pm-4pm","v":1.7,"g":1.3},
{"c":"AZ","m":"Distance","d":"8.5mg/kg","t":"1pm-7pm","v":1.8,"g":1.5},
{"c":"AZ","m":"Distance","d":"8.5mg/kg","t":"7pm-10pm","v":16,"g":3.6},
{"c":"AZ","m":"Distance","d":"8.5mg/kg","t":"7pm-7am","v":4.7,"g":1.4},
{"c":"AZ","m":"Distance","d":"8.5mg/kg","t":"10pm-7am","v":1.1,"g":0.7},
{"c":"AZ","m":"Distance","d":"28mg/kg","t":"10am-11am","v":28,"g":-2.8},
{"c":"AZ","m":"Distance","d":"28mg/kg","t":"10am-1pm","v":27,"g":0.1},
{"c":"AZ","m":"Distance","d":"28mg/kg","t":"10am-7pm","v":11,"g":1.1},
{"c":"AZ","m":"Distance","d":"28mg/kg","t":"1pm-4pm","v":4.4,"g":2.8},
{"c":"AZ","m":"Distance","d":"28mg/kg","t":"1pm-7pm","v":2.9,"g":2.0},
{"c":"AZ","m":"Distance","d":"28mg/kg","t":"7pm-10pm","v":14,"g":3.1},
{"c":"AZ","m":"Distance","d":"28mg/kg","t":"7pm-7am","v":13,"g":5.0},
{"c":"AZ","m":"Distance","d":"28mg/kg","t":"10pm-7am","v":12,"g":3.8},
{"c":"AZ","m":"Distance","d":"85mg/kg","t":"10am-11am","v":27,"g":-2.8},
{"c":"AZ","m":"Distance","d":"85mg/kg","t":"10am-1pm","v":15,"g":-2.6},
{"c":"AZ","m":"Distance","d":"85mg/kg","t":"10am-7pm","v":6.1,"g":-0.6},
{"c":"AZ","m":"Distance","d":"85mg/kg","t":"1pm-4pm","v":1.4,"g":1.0},
{"c":"AZ","m":"Distance","d":"85mg/kg","t":"1pm-7pm","v":1.6,"g":1.4},
{"c":"AZ","m":"Distance","d":"85mg/kg","t":"7pm-10pm","v":8.9,"g":1.8},
{"c":"AZ","m":"Distance","d":"85mg/kg","t":"7pm-7am","v":7.7,"g":3.6},
{"c":"AZ","m":"Distance","d":"85mg/kg","t":"10pm-7am","v":7.3,"g":2.6},
{"c":"AZ","m":"Rearing","d":"Vehicle","t":"10am-11am","v":9.8,"g":0},
{"c":"AZ","m":"Rearing","d":"Vehicle","t":"10am-1pm","v":3.8,"g":0},
{"c":"AZ","m":"Rearing","d":"Vehicle","t":"10am-7pm","v":1.2,"g":0},
{"c":"AZ","m":"Rearing","d":"Vehicle","t":"1pm-4pm","v":-0.24,"g":0},
{"c":"AZ","m":"Rearing","d":"Vehicle","t":"1pm-7pm","v":-0.18,"g":0},
{"c":"AZ","m":"Rearing","d":"Vehicle","t":"7pm-10pm","v":0.36,"g":0},
{"c":"AZ","m":"Rearing","d":"Vehicle","t":"7pm-7am","v":-0.11,"g":0},
{"c":"AZ","m":"Rearing","d":"Vehicle","t":"10pm-7am","v":-0.27,"g":0},
{"c":"AZ","m":"Rearing","d":"8.5mg/kg","t":"10am-11am","v":1.2,"g":-4.6},
{"c":"AZ","m":"Rearing","d":"8.5mg/kg","t":"10am-1pm","v":0.64,"g":-5.2},
{"c":"AZ","m":"Rearing","d":"8.5mg/kg","t":"10am-7pm","v":0.33,"g":-2.8},
{"c":"AZ","m":"Rearing","d":"8.5mg/kg","t":"1pm-4pm","v":0.028,"g":1.6},
{"c":"AZ","m":"Rearing","d":"8.5mg/kg","t":"1pm-7pm","v":0.17,"g":1.8},
{"c":"AZ","m":"Rearing","d":"8.5mg/kg","t":"7pm-10pm","v":1.8,"g":1.6},
{"c":"AZ","m":"Rearing","d":"8.5mg/kg","t":"7pm-7am","v":-0.47,"g":-0.7},
{"c":"AZ","m":"Rearing","d":"8.5mg/kg","t":"10pm-7am","v":-1.2,"g":-2.2},
{"c":"AZ","m":"Rearing","d":"28mg/kg","t":"10am-11am","v":3.4,"g":-3.1},
{"c":"AZ","m":"Rearing","d":"28mg/kg","t":"10am-1pm","v":3,"g":-0.5},
{"c":"AZ","m":"Rearing","d":"28mg/kg","t":"10am-7pm","v":1.3,"g":0.2},
{"c":"AZ","m":"Rearing","d":"28mg/kg","t":"1pm-4pm","v":0.41,"g":4.2},
{"c":"AZ","m":"Rearing","d":"28mg/kg","t":"1pm-7pm","v":0.39,"g":3.6},
{"c":"AZ","m":"Rearing","d":"28mg/kg","t":"7pm-10pm","v":1.9,"g":1.6},
{"c":"AZ","m":"Rearing","d":"28mg/kg","t":"7pm-7am","v":0.8,"g":1.6},
{"c":"AZ","m":"Rearing","d":"28mg/kg","t":"10pm-7am","v":0.42,"g":1.5},
{"c":"AZ","m":"Rearing","d":"85mg/kg","t":"10am-11am","v":3.2,"g":-3.1},
{"c":"AZ","m":"Rearing","d":"85mg/kg","t":"10am-1pm","v":2.2,"g":-1.6},
{"c":"AZ","m":"Rearing","d":"85mg/kg","t":"10am-7pm","v":0.85,"g":-0.6},
{"c":"AZ","m":"Rearing","d":"85mg/kg","t":"1pm-4pm","v":0.15,"g":1.6},
{"c":"AZ","m":"Rearing","d":"85mg/kg","t":"1pm-7pm","v":0.17,"g":1.6},
{"c":"AZ","m":"Rearing","d":"85mg/kg","t":"7pm-10pm","v":1.3,"g":1.2},
{"c":"AZ","m":"Rearing","d":"85mg/kg","t":"7pm-7am","v":0.64,"g":1.3},
{"c":"AZ","m":"Rearing","d":"85mg/kg","t":"10pm-7am","v":0.42,"g":1.5},
{"c":"AZ","m":"Temperature","d":"Vehicle","t":"10am-11am","v":0.93,"g":0},
{"c":"AZ","m":"Temperature","d":"Vehicle","t":"10am-1pm","v":0.39,"g":0},
{"c":"AZ","m":"Temperature","d":"Vehicle","t":"10am-7pm","v":0.21,"g":0},
{"c":"AZ","m":"Temperature","d":"Vehicle","t":"1pm-4pm","v":0.13,"g":0},
{"c":"AZ","m":"Temperature","d":"Vehicle","t":"1pm-7pm","v":0.11,"g":0},
{"c":"AZ","m":"Temperature","d":"Vehicle","t":"7pm-10pm","v":0.0074,"g":0},
{"c":"AZ","m":"Temperature","d":"Vehicle","t":"7pm-7am","v":-0.054,"g":0},
{"c":"AZ","m":"Temperature","d":"Vehicle","t":"10pm-7am","v":-0.074,"g":0},
{"c":"AZ","m":"Temperature","d":"8.5mg/kg","t":"10am-11am","v":-0.039,"g":-2.0},
{"c":"AZ","m":"Temperature","d":"8.5mg/kg","t":"10am-1pm","v":0.042,"g":-1.5},
{"c":"AZ","m":"Temperature","d":"8.5mg/kg","t":"10am-7pm","v":0.3,"g":0.5},
{"c":"AZ","m":"Temperature","d":"8.5mg/kg","t":"1pm-4pm","v":0.45,"g":1.2},
{"c":"AZ","m":"Temperature","d":"8.5mg/kg","t":"1pm-7pm","v":0.43,"g":1.2},
{"c":"AZ","m":"Temperature","d":"8.5mg/kg","t":"7pm-10pm","v":0.32,"g":1.1},
{"c":"AZ","m":"Temperature","d":"8.5mg/kg","t":"7pm-7am","v":0.086,"g":0.6},
{"c":"AZ","m":"Temperature","d":"8.5mg/kg","t":"10pm-7am","v":0.0086,"g":0.3},
{"c":"AZ","m":"Temperature","d":"28mg/kg","t":"10am-11am","v":0.36,"g":-1.0},
{"c":"AZ","m":"Temperature","d":"28mg/kg","t":"10am-1pm","v":0.36,"g":-0.1},
{"c":"AZ","m":"Temperature","d":"28mg/kg","t":"10am-7pm","v":0.38,"g":0.6},
{"c":"AZ","m":"Temperature","d":"28mg/kg","t":"1pm-4pm","v":0.47,"g":1.2},
{"c":"AZ","m":"Temperature","d":"28mg/kg","t":"1pm-7pm","v":0.39,"g":1.0},
{"c":"AZ","m":"Temperature","d":"28mg/kg","t":"7pm-10pm","v":0.35,"g":1.1},
{"c":"AZ","m":"Temperature","d":"28mg/kg","t":"7pm-7am","v":0.19,"g":1.0},
{"c":"AZ","m":"Temperature","d":"28mg/kg","t":"10pm-7am","v":0.14,"g":0.8},
{"c":"AZ","m":"Temperature","d":"85mg/kg","t":"10am-11am","v":0.059,"g":-1.8},
{"c":"AZ","m":"Temperature","d":"85mg/kg","t":"10am-1pm","v":-0.13,"g":-1.5},
{"c":"AZ","m":"Temperature","d":"85mg/kg","t":"10am-7pm","v":0.21,"g":0},
{"c":"AZ","m":"Temperature","d":"85mg/kg","t":"1pm-4pm","v":0.36,"g":0.9},
{"c":"AZ","m":"Temperature","d":"85mg/kg","t":"1pm-7pm","v":0.37,"g":1.0},
{"c":"AZ","m":"Temperature","d":"85mg/kg","t":"7pm-10pm","v":0.21,"g":0.8},
{"c":"AZ","m":"Temperature","d":"85mg/kg","t":"7pm-7am","v":0.15,"g":0.8},
{"c":"AZ","m":"Temperature","d":"85mg/kg","t":"10pm-7am","v":0.13,"g":0.8},
{"c":"AZ","m":"Drinking","d":"Vehicle","t":"10am-11am","v":0.43,"g":0},
{"c":"AZ","m":"Drinking","d":"Vehicle","t":"10am-1pm","v":0.26,"g":0},
{"c":"AZ","m":"Drinking","d":"Vehicle","t":"10am-7pm","v":0.042,"g":0},
{"c":"AZ","m":"Drinking","d":"Vehicle","t":"1pm-4pm","v":-0.1,"g":0},
{"c":"AZ","m":"Drinking","d":"Vehicle","t":"1pm-7pm","v":-0.069,"g":0},
{"c":"AZ","m":"Drinking","d":"Vehicle","t":"7pm-10pm","v":0.55,"g":0},
{"c":"AZ","m":"Drinking","d":"Vehicle","t":"7pm-7am","v":0.61,"g":0},
{"c":"AZ","m":"Drinking","d":"Vehicle","t":"10pm-7am","v":0.62,"g":0},
{"c":"AZ","m":"Drinking","d":"8.5mg/kg","t":"10am-11am","v":-0.24,"g":-1.3},
{"c":"AZ","m":"Drinking","d":"8.5mg/kg","t":"10am-1pm","v":-0.065,"g":-1.2},
{"c":"AZ","m":"Drinking","d":"8.5mg/kg","t":"10am-7pm","v":0.0066,"g":-0.3},
{"c":"AZ","m":"Drinking","d":"8.5mg/kg","t":"1pm-4pm","v":-0.0033,"g":0.5},
{"c":"AZ","m":"Drinking","d":"8.5mg/kg","t":"1pm-7pm","v":0.042,"g":0.6},
{"c":"AZ","m":"Drinking","d":"8.5mg/kg","t":"7pm-10pm","v":0.8,"g":0.6},
{"c":"AZ","m":"Drinking","d":"8.5mg/kg","t":"7pm-7am","v":0.21,"g":-2.0},
{"c":"AZ","m":"Drinking","d":"8.5mg/kg","t":"10pm-7am","v":0.019,"g":-2.3},
{"c":"AZ","m":"Drinking","d":"28mg/kg","t":"10am-11am","v":0.39,"g":0},
{"c":"AZ","m":"Drinking","d":"28mg/kg","t":"10am-1pm","v":0.26,"g":0},
{"c":"AZ","m":"Drinking","d":"28mg/kg","t":"10am-7pm","v":0.25,"g":1.2},
{"c":"AZ","m":"Drinking","d":"28mg/kg","t":"1pm-4pm","v":0.062,"g":1.0},
{"c":"AZ","m":"Drinking","d":"28mg/kg","t":"1pm-7pm","v":0.24,"g":2.0},
{"c":"AZ","m":"Drinking","d":"28mg/kg","t":"7pm-10pm","v":-0.088,"g":-1.8},
{"c":"AZ","m":"Drinking","d":"28mg/kg","t":"7pm-7am","v":-0.16,"g":-2.4},
{"c":"AZ","m":"Drinking","d":"28mg/kg","t":"10pm-7am","v":-0.18,"g":-2.3},
{"c":"AZ","m":"Drinking","d":"85mg/kg","t":"10am-11am","v":1.8,"g":2.2},
{"c":"AZ","m":"Drinking","d":"85mg/kg","t":"10am-1pm","v":1.4,"g":3.8},
{"c":"AZ","m":"Drinking","d":"85mg/kg","t":"10am-7pm","v":0.42,"g":1.4},
{"c":"AZ","m":"Drinking","d":"85mg/kg","t":"1pm-4pm","v":0.071,"g":1.0},
{"c":"AZ","m":"Drinking","d":"85mg/kg","t":"1pm-7pm","v":-0.086,"g":-0.5},
{"c":"AZ","m":"Drinking","d":"85mg/kg","t":"7pm-10pm","v":0.35,"g":-0.5},
{"c":"AZ","m":"Drinking","d":"85mg/kg","t":"7pm-7am","v":0.44,"g":-0.5},
{"c":"AZ","m":"Drinking","d":"85mg/kg","t":"10pm-7am","v":0.47,"g":-0.4},
{"c":"AZ","m":"Separation","d":"Vehicle","t":"10am-11am","v":-1.9,"g":0},
{"c":"AZ","m":"Separation","d":"Vehicle","t":"10am-1pm","v":0.7,"g":0},
{"c":"AZ","m":"Separation","d":"Vehicle","t":"10am-7pm","v":0.62,"g":0},
{"c":"AZ","m":"Separation","d":"Vehicle","t":"1pm-4pm","v":-0.42,"g":0},
{"c":"AZ","m":"Separation","d":"Vehicle","t":"1pm-7pm","v":0.58,"g":0},
{"c":"AZ","m":"Separation","d":"Vehicle","t":"7pm-10pm","v":-1.5,"g":0},
{"c":"AZ","m":"Separation","d":"Vehicle","t":"7pm-7am","v":-0.49,"g":0},
{"c":"AZ","m":"Separation","d":"Vehicle","t":"10pm-7am","v":-0.14,"g":0},
{"c":"AZ","m":"Separation","d":"8.5mg/kg","t":"10am-11am","v":-1.2,"g":0.5},
{"c":"AZ","m":"Separation","d":"8.5mg/kg","t":"10am-1pm","v":-1.4,"g":-1.3},
{"c":"AZ","m":"Separation","d":"8.5mg/kg","t":"10am-7pm","v":-0.95,"g":-0.9},
{"c":"AZ","m":"Separation","d":"8.5mg/kg","t":"1pm-4pm","v":-0.27,"g":0.1},
{"c":"AZ","m":"Separation","d":"8.5mg/kg","t":"1pm-7pm","v":-0.74,"g":-0.9},
{"c":"AZ","m":"Separation","d":"8.5mg/kg","t":"7pm-10pm","v":-0.69,"g":0.6},
{"c":"AZ","m":"Separation","d":"8.5mg/kg","t":"7pm-7am","v":-0.5,"g":0},
{"c":"AZ","m":"Separation","d":"8.5mg/kg","t":"10pm-7am","v":-0.44,"g":-0.3},
{"c":"AZ","m":"Separation","d":"28mg/kg","t":"10am-11am","v":-0.44,"g":1.3},
{"c":"AZ","m":"Separation","d":"28mg/kg","t":"10am-1pm","v":-1.8,"g":-1.5},
{"c":"AZ","m":"Separation","d":"28mg/kg","t":"10am-7pm","v":0.66,"g":0.1},
{"c":"AZ","m":"Separation","d":"28mg/kg","t":"1pm-4pm","v":2.8,"g":1.1},
{"c":"AZ","m":"Separation","d":"28mg/kg","t":"1pm-7pm","v":1.9,"g":0.6},
{"c":"AZ","m":"Separation","d":"28mg/kg","t":"7pm-10pm","v":0.87,"g":2.0},
{"c":"AZ","m":"Separation","d":"28mg/kg","t":"7pm-7am","v":-0.69,"g":-0.2},
{"c":"AZ","m":"Separation","d":"28mg/kg","t":"10pm-7am","v":-1.2,"g":-1.2},
{"c":"AZ","m":"Separation","d":"85mg/kg","t":"10am-11am","v":-1.4,"g":0.4},
{"c":"AZ","m":"Separation","d":"85mg/kg","t":"10am-1pm","v":-1.7,"g":-1.3},
{"c":"AZ","m":"Separation","d":"85mg/kg","t":"10am-7pm","v":-0.072,"g":-0.5},
{"c":"AZ","m":"Separation","d":"85mg/kg","t":"1pm-4pm","v":-0.35,"g":0.1},
{"c":"AZ","m":"Separation","d":"85mg/kg","t":"1pm-7pm","v":0.74,"g":0.3},
{"c":"AZ","m":"Separation","d":"85mg/kg","t":"7pm-10pm","v":-0.65,"g":0.6},
{"c":"AZ","m":"Separation","d":"85mg/kg","t":"7pm-7am","v":-0.72,"g":-0.2},
{"c":"AZ","m":"Separation","d":"85mg/kg","t":"10pm-7am","v":-0.74,"g":-0.6}
]
},
"spacing": 17,
"resolve": {"scale": {"x": "independent", "y": "independent"}},
"vconcat": [
{
"spacing": 3,
"resolve": {"scale": {"x": "independent", "y": "independent"}},
"vconcat": [
{
"data": {"name": "icons"},
"title": {"text": "JNJ", "orient": "left", "angle": 0, "anchor": "middle", "align": "left", "baseline": "middle", "offset": 106, "fontSize": 24, "fontWeight": "bold", "font": "DejaVu Sans Condensed, Liberation Sans Narrow, DejaVu Sans", "color": "#000"},
"facet": {"column": {"field": "t", "type": "nominal", "sort": ["10am-11am","10am-1pm","10am-7pm","1pm-4pm","1pm-7pm","7pm-10pm","7pm-7am","10pm-7am"], "header": {"title": null, "labelFont": "DejaVu Sans Condensed, Liberation Sans Narrow, DejaVu Sans", "labelFontSize": 12.5, "labelColor": "#111", "labelPadding": 4}}},
"spacing": {"column": 0},
"spec": {
"width": 75, "height": 11,
"layer": [
{"transform": [{"filter": "datum.k == 'light'"}], "mark": {"type": "rect", "fill": "#ffffff", "stroke": "#1a1a1a", "strokeWidth": 1.3}, "encoding": {"x": {"field": "a", "type": "quantitative", "scale": {"domain": [5.35, 32.65], "nice": false, "zero": false}, "axis": null}, "x2": {"field": "b"}}},
{"transform": [{"filter": "datum.k == 'dark'"}], "mark": {"type": "rect", "fill": "#7d7d7d", "stroke": "#1a1a1a", "strokeWidth": 1.3}, "encoding": {"x": {"field": "a", "type": "quantitative", "scale": {"domain": [5.35, 32.65], "nice": false, "zero": false}, "axis": null}, "x2": {"field": "b"}}},
{"transform": [{"filter": "datum.k == 'wl'"}], "mark": {"type": "rect", "fill": "#f6eec6", "stroke": "#f0cf24", "strokeWidth": 2}, "encoding": {"x": {"field": "a", "type": "quantitative", "scale": {"domain": [5.35, 32.65], "nice": false, "zero": false}, "axis": null}, "x2": {"field": "b"}}},
{"transform": [{"filter": "datum.k == 'wd'"}], "mark": {"type": "rect", "fill": "#8a8673", "stroke": "#f0cf24", "strokeWidth": 2}, "encoding": {"x": {"field": "a", "type": "quantitative", "scale": {"domain": [5.35, 32.65], "nice": false, "zero": false}, "axis": null}, "x2": {"field": "b"}}}
]
}
},
{
"spacing": 12.5,
"bounds": "flush",
"resolve": {"scale": {"y": "independent"}},
"vconcat": [
{"width": 600, "height": 65, "data": {"name": "cells"}, "transform": [{"filter": "datum.c == 'JNJ' && datum.m == 'Distance'"}],
"encoding": {"x": {"field": "t", "type": "nominal", "sort": ["10am-11am","10am-1pm","10am-7pm","1pm-4pm","1pm-7pm","7pm-10pm","7pm-7am","10pm-7am"], "axis": null}},
"layer": [
{"mark": "rect", "encoding": {"y": {"field": "d", "type": "nominal", "sort": ["Vehicle","10mg/kg","40mg/kg","300mg/kg"], "axis": {"title": ["Distance", "(cm / min)"]}}, "color": {"field": "g", "type": "quantitative", "scale": {"domain": [-6,-4,-2,0,2,4,6], "range": ["#5a8196","#819fb1","#c0cfd7","#f1efef","#e2c3b8","#ca8a74","#b0533a"], "clamp": true}, "legend": {"title": "Deviation from vehicle group (Glass's Delta)", "values": [-6,-4,-2,0,2,4,6], "labelExpr": "datum.value <= -6 ? '≤ -6' : datum.value >= 6 ? '≥ 6' : format(abs(datum.value), 'd')"}}}},
{"mark": {"type": "text", "fontSize": 11.5}, "encoding": {"y": {"field": "d", "type": "nominal", "sort": ["Vehicle","10mg/kg","40mg/kg","300mg/kg"], "axis": {"title": ["Distance", "(cm / min)"]}}, "text": {"field": "v", "type": "nominal"}, "color": {"condition": {"test": "abs(datum.g) >= 3.4", "value": "#f7f2f0"}, "value": "#2a2a2a"}}},
{"data": {"name": "sig"}, "transform": [{"filter": "datum.c == 'JNJ' && datum.m == 'Distance' && datum.lv == 'strong'"}], "mark": {"type": "rect", "filled": false, "stroke": "#222", "strokeWidth": 1.2, "strokeDash": [4, 2.5], "width": {"band": 0.93}}, "encoding": {}},
{"data": {"name": "sig"}, "transform": [{"filter": "datum.c == 'JNJ' && datum.m == 'Distance' && datum.lv == 'weak'"}], "mark": {"type": "rect", "filled": false, "stroke": "#333", "strokeWidth": 1.2, "strokeDash": [1.2, 2.2], "width": {"band": 0.93}}, "encoding": {}},
{"data": {"name": "sig"}, "transform": [{"filter": "datum.c == 'JNJ' && datum.m == 'Distance'"}], "mark": {"type": "text", "angle": 270, "dy": 29, "fontSize": 10.5, "color": "#111"}, "encoding": {"text": {"field": "s", "type": "nominal"}}}
]},
{"width": 600, "height": 65, "data": {"name": "cells"}, "transform": [{"filter": "datum.c == 'JNJ' && datum.m == 'Rearing'"}],
"encoding": {"x": {"field": "t", "type": "nominal", "sort": ["10am-11am","10am-1pm","10am-7pm","1pm-4pm","1pm-7pm","7pm-10pm","7pm-7am","10pm-7am"], "axis": null}},
"layer": [
{"mark": "rect", "encoding": {"y": {"field": "d", "type": "nominal", "sort": ["Vehicle","10mg/kg","40mg/kg","300mg/kg"], "axis": {"title": ["Rearing", "(s / min)"]}}, "color": {"field": "g", "type": "quantitative", "scale": {"domain": [-6,-4,-2,0,2,4,6], "range": ["#5a8196","#819fb1","#c0cfd7","#f1efef","#e2c3b8","#ca8a74","#b0533a"], "clamp": true}, "legend": {"title": "Deviation from vehicle group (Glass's Delta)", "values": [-6,-4,-2,0,2,4,6], "labelExpr": "datum.value <= -6 ? '≤ -6' : datum.value >= 6 ? '≥ 6' : format(abs(datum.value), 'd')"}}}},
{"mark": {"type": "text", "fontSize": 11.5}, "encoding": {"y": {"field": "d", "type": "nominal", "sort": ["Vehicle","10mg/kg","40mg/kg","300mg/kg"], "axis": {"title": ["Rearing", "(s / min)"]}}, "text": {"field": "v", "type": "nominal"}, "color": {"condition": {"test": "abs(datum.g) >= 3.4", "value": "#f7f2f0"}, "value": "#2a2a2a"}}},
{"data": {"name": "sig"}, "transform": [{"filter": "datum.c == 'JNJ' && datum.m == 'Rearing' && datum.lv == 'strong'"}], "mark": {"type": "rect", "filled": false, "stroke": "#222", "strokeWidth": 1.2, "strokeDash": [4, 2.5], "width": {"band": 0.93}}, "encoding": {}},
{"data": {"name": "sig"}, "transform": [{"filter": "datum.c == 'JNJ' && datum.m == 'Rearing' && datum.lv == 'weak'"}], "mark": {"type": "rect", "filled": false, "stroke": "#333", "strokeWidth": 1.2, "strokeDash": [1.2, 2.2], "width": {"band": 0.93}}, "encoding": {}},
{"data": {"name": "sig"}, "transform": [{"filter": "datum.c == 'JNJ' && datum.m == 'Rearing'"}], "mark": {"type": "text", "angle": 270, "dy": 29, "fontSize": 10.5, "color": "#111"}, "encoding": {"text": {"field": "s", "type": "nominal"}}}
]},
{"width": 600, "height": 65, "data": {"name": "cells"}, "transform": [{"filter": "datum.c == 'JNJ' && datum.m == 'Temperature'"}],
"encoding": {"x": {"field": "t", "type": "nominal", "sort": ["10am-11am","10am-1pm","10am-7pm","1pm-4pm","1pm-7pm","7pm-10pm","7pm-7am","10pm-7am"], "axis": null}},
"layer": [
{"mark": "rect", "encoding": {"y": {"field": "d", "type": "nominal", "sort": ["Vehicle","10mg/kg","40mg/kg","300mg/kg"], "axis": {"title": ["Temperature", "(C)"]}}, "color": {"field": "g", "type": "quantitative", "scale": {"domain": [-6,-4,-2,0,2,4,6], "range": ["#5a8196","#819fb1","#c0cfd7","#f1efef","#e2c3b8","#ca8a74","#b0533a"], "clamp": true}, "legend": {"title": "Deviation from vehicle group (Glass's Delta)", "values": [-6,-4,-2,0,2,4,6], "labelExpr": "datum.value <= -6 ? '≤ -6' : datum.value >= 6 ? '≥ 6' : format(abs(datum.value), 'd')"}}}},
{"mark": {"type": "text", "fontSize": 11.5}, "encoding": {"y": {"field": "d", "type": "nominal", "sort": ["Vehicle","10mg/kg","40mg/kg","300mg/kg"], "axis": {"title": ["Temperature", "(C)"]}}, "text": {"field": "v", "type": "nominal"}, "color": {"condition": {"test": "abs(datum.g) >= 3.4", "value": "#f7f2f0"}, "value": "#2a2a2a"}}},
{"data": {"name": "sig"}, "transform": [{"filter": "datum.c == 'JNJ' && datum.m == 'Temperature' && datum.lv == 'strong'"}], "mark": {"type": "rect", "filled": false, "stroke": "#222", "strokeWidth": 1.2, "strokeDash": [4, 2.5], "width": {"band": 0.93}}, "encoding": {}},
{"data": {"name": "sig"}, "transform": [{"filter": "datum.c == 'JNJ' && datum.m == 'Temperature'"}], "mark": {"type": "text", "angle": 270, "dy": 29, "fontSize": 10.5, "color": "#111"}, "encoding": {"text": {"field": "s", "type": "nominal"}}}
]},
{"width": 600, "height": 65, "data": {"name": "cells"}, "transform": [{"filter": "datum.c == 'JNJ' && datum.m == 'Drinking'"}],
"encoding": {"x": {"field": "t", "type": "nominal", "sort": ["10am-11am","10am-1pm","10am-7pm","1pm-4pm","1pm-7pm","7pm-10pm","7pm-7am","10pm-7am"], "axis": null}},
"layer": [
{"mark": "rect", "encoding": {"y": {"field": "d", "type": "nominal", "sort": ["Vehicle","10mg/kg","40mg/kg","300mg/kg"], "axis": {"title": ["Drinking", "(s / min)"]}}, "color": {"field": "g", "type": "quantitative", "scale": {"domain": [-6,-4,-2,0,2,4,6], "range": ["#5a8196","#819fb1","#c0cfd7","#f1efef","#e2c3b8","#ca8a74","#b0533a"], "clamp": true}, "legend": {"title": "Deviation from vehicle group (Glass's Delta)", "values": [-6,-4,-2,0,2,4,6], "labelExpr": "datum.value <= -6 ? '≤ -6' : datum.value >= 6 ? '≥ 6' : format(abs(datum.value), 'd')"}}}},
{"mark": {"type": "text", "fontSize": 11.5}, "encoding": {"y": {"field": "d", "type": "nominal", "sort": ["Vehicle","10mg/kg","40mg/kg","300mg/kg"], "axis": {"title": ["Drinking", "(s / min)"]}}, "text": {"field": "v", "type": "nominal"}, "color": {"condition": {"test": "abs(datum.g) >= 3.4", "value": "#f7f2f0"}, "value": "#2a2a2a"}}},
{"data": {"name": "sig"}, "transform": [{"filter": "datum.c == 'JNJ' && datum.m == 'Drinking' && datum.lv == 'strong'"}], "mark": {"type": "rect", "filled": false, "stroke": "#222", "strokeWidth": 1.2, "strokeDash": [4, 2.5], "width": {"band": 0.93}}, "encoding": {}},
{"data": {"name": "sig"}, "transform": [{"filter": "datum.c == 'JNJ' && datum.m == 'Drinking'"}], "mark": {"type": "text", "angle": 270, "dy": 29, "fontSize": 10.5, "color": "#111"}, "encoding": {"text": {"field": "s", "type": "nominal"}}}
]},
{"width": 600, "height": 65, "data": {"name": "cells"}, "transform": [{"filter": "datum.c == 'JNJ' && datum.m == 'Separation'"}],
"encoding": {"x": {"field": "t", "type": "nominal", "sort": ["10am-11am","10am-1pm","10am-7pm","1pm-4pm","1pm-7pm","7pm-10pm","7pm-7am","10pm-7am"], "axis": null}},
"layer": [
{"mark": "rect", "encoding": {"y": {"field": "d", "type": "nominal", "sort": ["Vehicle","10mg/kg","40mg/kg","300mg/kg"], "axis": {"title": ["Separation", "(cm)"]}}, "color": {"field": "g", "type": "quantitative", "scale": {"domain": [-6,-4,-2,0,2,4,6], "range": ["#5a8196","#819fb1","#c0cfd7","#f1efef","#e2c3b8","#ca8a74","#b0533a"], "clamp": true}, "legend": {"title": "Deviation from vehicle group (Glass's Delta)", "values": [-6,-4,-2,0,2,4,6], "labelExpr": "datum.value <= -6 ? '≤ -6' : datum.value >= 6 ? '≥ 6' : format(abs(datum.value), 'd')"}}}},
{"mark": {"type": "text", "fontSize": 11.5}, "encoding": {"y": {"field": "d", "type": "nominal", "sort": ["Vehicle","10mg/kg","40mg/kg","300mg/kg"], "axis": {"title": ["Separation", "(cm)"]}}, "text": {"field": "v", "type": "nominal"}, "color": {"condition": {"test": "abs(datum.g) >= 3.4", "value": "#f7f2f0"}, "value": "#2a2a2a"}}},
{"data": {"name": "sig"}, "transform": [{"filter": "datum.c == 'JNJ' && datum.m == 'Separation' && datum.lv == 'strong'"}], "mark": {"type": "rect", "filled": false, "stroke": "#222", "strokeWidth": 1.2, "strokeDash": [4, 2.5], "width": {"band": 0.93}}, "encoding": {}},
{"data": {"name": "sig"}, "transform": [{"filter": "datum.c == 'JNJ' && datum.m == 'Separation' && datum.lv == 'weak'"}], "mark": {"type": "rect", "filled": false, "stroke": "#333", "strokeWidth": 1.2, "strokeDash": [1.2, 2.2], "width": {"band": 0.93}}, "encoding": {}},
{"data": {"name": "sig"}, "transform": [{"filter": "datum.c == 'JNJ' && datum.m == 'Separation'"}], "mark": {"type": "text", "angle": 270, "dy": 29, "fontSize": 10.5, "color": "#111"}, "encoding": {"text": {"field": "s", "type": "nominal"}}}
]}
]
}
]
},
{
"spacing": 3,
"resolve": {"scale": {"x": "independent", "y": "independent"}},
"vconcat": [
{
"data": {"name": "icons"},
"title": {"text": "GSK", "orient": "left", "angle": 0, "anchor": "middle", "align": "left", "baseline": "middle", "offset": 91, "fontSize": 24, "fontWeight": "bold", "font": "DejaVu Sans Condensed, Liberation Sans Narrow, DejaVu Sans", "color": "#000"},
"facet": {"column": {"field": "t", "type": "nominal", "sort": ["10am-11am","10am-1pm","10am-7pm","1pm-4pm","1pm-7pm","7pm-10pm","7pm-7am","10pm-7am"], "header": {"title": null, "labelFont": "DejaVu Sans Condensed, Liberation Sans Narrow, DejaVu Sans", "labelFontSize": 12.5, "labelColor": "#111", "labelPadding": 4}}},
"spacing": {"column": 0},
"spec": {
"width": 75, "height": 11,
"layer": [
{"transform": [{"filter": "datum.k == 'light'"}], "mark": {"type": "rect", "fill": "#ffffff", "stroke": "#1a1a1a", "strokeWidth": 1.3}, "encoding": {"x": {"field": "a", "type": "quantitative", "scale": {"domain": [5.35, 32.65], "nice": false, "zero": false}, "axis": null}, "x2": {"field": "b"}}},
{"transform": [{"filter": "datum.k == 'dark'"}], "mark": {"type": "rect", "fill": "#7d7d7d", "stroke": "#1a1a1a", "strokeWidth": 1.3}, "encoding": {"x": {"field": "a", "type": "quantitative", "scale": {"domain": [5.35, 32.65], "nice": false, "zero": false}, "axis": null}, "x2": {"field": "b"}}},
{"transform": [{"filter": "datum.k == 'wl'"}], "mark": {"type": "rect", "fill": "#f6eec6", "stroke": "#f0cf24", "strokeWidth": 2}, "encoding": {"x": {"field": "a", "type": "quantitative", "scale": {"domain": [5.35, 32.65], "nice": false, "zero": false}, "axis": null}, "x2": {"field": "b"}}},
{"transform": [{"filter": "datum.k == 'wd'"}], "mark": {"type": "rect", "fill": "#8a8673", "stroke": "#f0cf24", "strokeWidth": 2}, "encoding": {"x": {"field": "a", "type": "quantitative", "scale": {"domain": [5.35, 32.65], "nice": false, "zero": false}, "axis": null}, "x2": {"field": "b"}}}
]
}
},
{
"spacing": 12.5,
"bounds": "flush",
"resolve": {"scale": {"y": "independent"}},
"vconcat": [
{"width": 600, "height": 65, "data": {"name": "cells"}, "transform": [{"filter": "datum.c == 'GSK' && datum.m == 'Distance'"}],
"encoding": {"x": {"field": "t", "type": "nominal", "sort": ["10am-11am","10am-1pm","10am-7pm","1pm-4pm","1pm-7pm","7pm-10pm","7pm-7am","10pm-7am"], "axis": null}},
"layer": [
{"mark": "rect", "encoding": {"y": {"field": "d", "type": "nominal", "sort": ["Vehicle","10mg/kg","50mg/kg","150mg/kg"], "axis": {"title": ["Distance", "(cm / min)"]}}, "color": {"field": "g", "type": "quantitative", "scale": {"domain": [-6,-4,-2,0,2,4,6], "range": ["#5a8196","#819fb1","#c0cfd7","#f1efef","#e2c3b8","#ca8a74","#b0533a"], "clamp": true}, "legend": {"title": "Deviation from vehicle group (Glass's Delta)", "values": [-6,-4,-2,0,2,4,6], "labelExpr": "datum.value <= -6 ? '≤ -6' : datum.value >= 6 ? '≥ 6' : format(abs(datum.value), 'd')"}}}},
{"mark": {"type": "text", "fontSize": 11.5}, "encoding": {"y": {"field": "d", "type": "nominal", "sort": ["Vehicle","10mg/kg","50mg/kg","150mg/kg"], "axis": {"title": ["Distance", "(cm / min)"]}}, "text": {"field": "v", "type": "nominal"}, "color": {"condition": {"test": "abs(datum.g) >= 3.4", "value": "#f7f2f0"}, "value": "#2a2a2a"}}},
{"data": {"name": "sig"}, "transform": [{"filter": "datum.c == 'GSK' && datum.m == 'Distance' && datum.lv == 'strong'"}], "mark": {"type": "rect", "filled": false, "stroke": "#222", "strokeWidth": 1.2, "strokeDash": [4, 2.5], "width": {"band": 0.93}}, "encoding": {}},
{"data": {"name": "sig"}, "transform": [{"filter": "datum.c == 'GSK' && datum.m == 'Distance' && datum.lv == 'weak'"}], "mark": {"type": "rect", "filled": false, "stroke": "#333", "strokeWidth": 1.2, "strokeDash": [1.2, 2.2], "width": {"band": 0.93}}, "encoding": {}},
{"data": {"name": "sig"}, "transform": [{"filter": "datum.c == 'GSK' && datum.m == 'Distance'"}], "mark": {"type": "text", "angle": 270, "dy": 29, "fontSize": 10.5, "color": "#111"}, "encoding": {"text": {"field": "s", "type": "nominal"}}}
]},
{"width": 600, "height": 65, "data": {"name": "cells"}, "transform": [{"filter": "datum.c == 'GSK' && datum.m == 'Rearing'"}],
"encoding": {"x": {"field": "t", "type": "nominal", "sort": ["10am-11am","10am-1pm","10am-7pm","1pm-4pm","1pm-7pm","7pm-10pm","7pm-7am","10pm-7am"], "axis": null}},
"layer": [
{"mark": "rect", "encoding": {"y": {"field": "d", "type": "nominal", "sort": ["Vehicle","10mg/kg","50mg/kg","150mg/kg"], "axis": {"title": ["Rearing", "(s / min)"]}}, "color": {"field": "g", "type": "quantitative", "scale": {"domain": [-6,-4,-2,0,2,4,6], "range": ["#5a8196","#819fb1","#c0cfd7","#f1efef","#e2c3b8","#ca8a74","#b0533a"], "clamp": true}, "legend": {"title": "Deviation from vehicle group (Glass's Delta)", "values": [-6,-4,-2,0,2,4,6], "labelExpr": "datum.value <= -6 ? '≤ -6' : datum.value >= 6 ? '≥ 6' : format(abs(datum.value), 'd')"}}}},
{"mark": {"type": "text", "fontSize": 11.5}, "encoding": {"y": {"field": "d", "type": "nominal", "sort": ["Vehicle","10mg/kg","50mg/kg","150mg/kg"], "axis": {"title": ["Rearing", "(s / min)"]}}, "text": {"field": "v", "type": "nominal"}, "color": {"condition": {"test": "abs(datum.g) >= 3.4", "value": "#f7f2f0"}, "value": "#2a2a2a"}}},
{"data": {"name": "sig"}, "transform": [{"filter": "datum.c == 'GSK' && datum.m == 'Rearing' && datum.lv == 'strong'"}], "mark": {"type": "rect", "filled": false, "stroke": "#222", "strokeWidth": 1.2, "strokeDash": [4, 2.5], "width": {"band": 0.93}}, "encoding": {}},
{"data": {"name": "sig"}, "transform": [{"filter": "datum.c == 'GSK' && datum.m == 'Rearing'"}], "mark": {"type": "text", "angle": 270, "dy": 29, "fontSize": 10.5, "color": "#111"}, "encoding": {"text": {"field": "s", "type": "nominal"}}}
]},
{"width": 600, "height": 65, "data": {"name": "cells"}, "transform": [{"filter": "datum.c == 'GSK' && datum.m == 'Temperature'"}],
"encoding": {"x": {"field": "t", "type": "nominal", "sort": ["10am-11am","10am-1pm","10am-7pm","1pm-4pm","1pm-7pm","7pm-10pm","7pm-7am","10pm-7am"], "axis": null}},
"layer": [
{"mark": "rect", "encoding": {"y": {"field": "d", "type": "nominal", "sort": ["Vehicle","10mg/kg","50mg/kg","150mg/kg"], "axis": {"title": ["Temperature", "(C)"]}}, "color": {"field": "g", "type": "quantitative", "scale": {"domain": [-6,-4,-2,0,2,4,6], "range": ["#5a8196","#819fb1","#c0cfd7","#f1efef","#e2c3b8","#ca8a74","#b0533a"], "clamp": true}, "legend": {"title": "Deviation from vehicle group (Glass's Delta)", "values": [-6,-4,-2,0,2,4,6], "labelExpr": "datum.value <= -6 ? '≤ -6' : datum.value >= 6 ? '≥ 6' : format(abs(datum.value), 'd')"}}}},
{"mark": {"type": "text", "fontSize": 11.5}, "encoding": {"y": {"field": "d", "type": "nominal", "sort": ["Vehicle","10mg/kg","50mg/kg","150mg/kg"], "axis": {"title": ["Temperature", "(C)"]}}, "text": {"field": "v", "type": "nominal"}, "color": {"condition": {"test": "abs(datum.g) >= 3.4", "value": "#f7f2f0"}, "value": "#2a2a2a"}}}
]},
{"width": 600, "height": 65, "data": {"name": "cells"}, "transform": [{"filter": "datum.c == 'GSK' && datum.m == 'Drinking'"}],
"encoding": {"x": {"field": "t", "type": "nominal", "sort": ["10am-11am","10am-1pm","10am-7pm","1pm-4pm","1pm-7pm","7pm-10pm","7pm-7am","10pm-7am"], "axis": null}},
"layer": [
{"mark": "rect", "encoding": {"y": {"field": "d", "type": "nominal", "sort": ["Vehicle","10mg/kg","50mg/kg","150mg/kg"], "axis": {"title": ["Drinking", "(s / min)"]}}, "color": {"field": "g", "type": "quantitative", "scale": {"domain": [-6,-4,-2,0,2,4,6], "range": ["#5a8196","#819fb1","#c0cfd7","#f1efef","#e2c3b8","#ca8a74","#b0533a"], "clamp": true}, "legend": {"title": "Deviation from vehicle group (Glass's Delta)", "values": [-6,-4,-2,0,2,4,6], "labelExpr": "datum.value <= -6 ? '≤ -6' : datum.value >= 6 ? '≥ 6' : format(abs(datum.value), 'd')"}}}},
{"mark": {"type": "text", "fontSize": 11.5}, "encoding": {"y": {"field": "d", "type": "nominal", "sort": ["Vehicle","10mg/kg","50mg/kg","150mg/kg"], "axis": {"title": ["Drinking", "(s / min)"]}}, "text": {"field": "v", "type": "nominal"}, "color": {"condition": {"test": "abs(datum.g) >= 3.4", "value": "#f7f2f0"}, "value": "#2a2a2a"}}}
]},
{"width": 600, "height": 65, "data": {"name": "cells"}, "transform": [{"filter": "datum.c == 'GSK' && datum.m == 'Separation'"}],
"encoding": {"x": {"field": "t", "type": "nominal", "sort": ["10am-11am","10am-1pm","10am-7pm","1pm-4pm","1pm-7pm","7pm-10pm","7pm-7am","10pm-7am"], "axis": null}},
"layer": [
{"mark": "rect", "encoding": {"y": {"field": "d", "type": "nominal", "sort": ["Vehicle","10mg/kg","50mg/kg","150mg/kg"], "axis": {"title": ["Separation", "(cm)"]}}, "color": {"field": "g", "type": "quantitative", "scale": {"domain": [-6,-4,-2,0,2,4,6], "range": ["#5a8196","#819fb1","#c0cfd7","#f1efef","#e2c3b8","#ca8a74","#b0533a"], "clamp": true}, "legend": {"title": "Deviation from vehicle group (Glass's Delta)", "values": [-6,-4,-2,0,2,4,6], "labelExpr": "datum.value <= -6 ? '≤ -6' : datum.value >= 6 ? '≥ 6' : format(abs(datum.value), 'd')"}}}},
{"mark": {"type": "text", "fontSize": 11.5}, "encoding": {"y": {"field": "d", "type": "nominal", "sort": ["Vehicle","10mg/kg","50mg/kg","150mg/kg"], "axis": {"title": ["Separation", "(cm)"]}}, "text": {"field": "v", "type": "nominal"}, "color": {"condition": {"test": "abs(datum.g) >= 3.4", "value": "#f7f2f0"}, "value": "#2a2a2a"}}}
]}
]
}
]
},
{
"spacing": 3,
"resolve": {"scale": {"x": "independent", "y": "independent"}},
"vconcat": [
{
"data": {"name": "icons"},
"title": {"text": "AZ", "orient": "left", "angle": 0, "anchor": "middle", "align": "left", "baseline": "middle", "offset": 108, "fontSize": 24, "fontWeight": "bold", "font": "DejaVu Sans Condensed, Liberation Sans Narrow, DejaVu Sans", "color": "#000"},
"facet": {"column": {"field": "t", "type": "nominal", "sort": ["10am-11am","10am-1pm","10am-7pm","1pm-4pm","1pm-7pm","7pm-10pm","7pm-7am","10pm-7am"], "header": {"title": null, "labelFont": "DejaVu Sans Condensed, Liberation Sans Narrow, DejaVu Sans", "labelFontSize": 12.5, "labelColor": "#111", "labelPadding": 4}}},
"spacing": {"column": 0},
"spec": {
"width": 75, "height": 11,
"layer": [
{"transform": [{"filter": "datum.k == 'light'"}], "mark": {"type": "rect", "fill": "#ffffff", "stroke": "#1a1a1a", "strokeWidth": 1.3}, "encoding": {"x": {"field": "a", "type": "quantitative", "scale": {"domain": [5.35, 32.65], "nice": false, "zero": false}, "axis": null}, "x2": {"field": "b"}}},
{"transform": [{"filter": "datum.k == 'dark'"}], "mark": {"type": "rect", "fill": "#7d7d7d", "stroke": "#1a1a1a", "strokeWidth": 1.3}, "encoding": {"x": {"field": "a", "type": "quantitative", "scale": {"domain": [5.35, 32.65], "nice": false, "zero": false}, "axis": null}, "x2": {"field": "b"}}},
{"transform": [{"filter": "datum.k == 'wl'"}], "mark": {"type": "rect", "fill": "#f6eec6", "stroke": "#f0cf24", "strokeWidth": 2}, "encoding": {"x": {"field": "a", "type": "quantitative", "scale": {"domain": [5.35, 32.65], "nice": false, "zero": false}, "axis": null}, "x2": {"field": "b"}}},
{"transform": [{"filter": "datum.k == 'wd'"}], "mark": {"type": "rect", "fill": "#8a8673", "stroke": "#f0cf24", "strokeWidth": 2}, "encoding": {"x": {"field": "a", "type": "quantitative", "scale": {"domain": [5.35, 32.65], "nice": false, "zero": false}, "axis": null}, "x2": {"field": "b"}}}
]
}
},
{
"spacing": 12.5,
"bounds": "flush",
"resolve": {"scale": {"y": "independent"}},
"vconcat": [
{"width": 600, "height": 65, "data": {"name": "cells"}, "transform": [{"filter": "datum.c == 'AZ' && datum.m == 'Distance'"}],
"encoding": {"x": {"field": "t", "type": "nominal", "sort": ["10am-11am","10am-1pm","10am-7pm","1pm-4pm","1pm-7pm","7pm-10pm","7pm-7am","10pm-7am"], "axis": null}},
"layer": [
{"mark": "rect", "encoding": {"y": {"field": "d", "type": "nominal", "sort": ["Vehicle","8.5mg/kg","28mg/kg","85mg/kg"], "axis": {"title": ["Distance", "(cm / min)"]}}, "color": {"field": "g", "type": "quantitative", "scale": {"domain": [-6,-4,-2,0,2,4,6], "range": ["#5a8196","#819fb1","#c0cfd7","#f1efef","#e2c3b8","#ca8a74","#b0533a"], "clamp": true}, "legend": {"title": "Deviation from vehicle group (Glass's Delta)", "values": [-6,-4,-2,0,2,4,6], "labelExpr": "datum.value <= -6 ? '≤ -6' : datum.value >= 6 ? '≥ 6' : format(abs(datum.value), 'd')"}}}},
{"mark": {"type": "text", "fontSize": 11.5}, "encoding": {"y": {"field": "d", "type": "nominal", "sort": ["Vehicle","8.5mg/kg","28mg/kg","85mg/kg"], "axis": {"title": ["Distance", "(cm / min)"]}}, "text": {"field": "v", "type": "nominal"}, "color": {"condition": {"test": "abs(datum.g) >= 3.4", "value": "#f7f2f0"}, "value": "#2a2a2a"}}},
{"data": {"name": "sig"}, "transform": [{"filter": "datum.c == 'AZ' && datum.m == 'Distance' && datum.lv == 'strong'"}], "mark": {"type": "rect", "filled": false, "stroke": "#222", "strokeWidth": 1.2, "strokeDash": [4, 2.5], "width": {"band": 0.93}}, "encoding": {}},
{"data": {"name": "sig"}, "transform": [{"filter": "datum.c == 'AZ' && datum.m == 'Distance' && datum.lv == 'weak'"}], "mark": {"type": "rect", "filled": false, "stroke": "#333", "strokeWidth": 1.2, "strokeDash": [1.2, 2.2], "width": {"band": 0.93}}, "encoding": {}},
{"data": {"name": "sig"}, "transform": [{"filter": "datum.c == 'AZ' && datum.m == 'Distance'"}], "mark": {"type": "text", "angle": 270, "dy": 29, "fontSize": 10.5, "color": "#111"}, "encoding": {"text": {"field": "s", "type": "nominal"}}}
]},
{"width": 600, "height": 65, "data": {"name": "cells"}, "transform": [{"filter": "datum.c == 'AZ' && datum.m == 'Rearing'"}],
"encoding": {"x": {"field": "t", "type": "nominal", "sort": ["10am-11am","10am-1pm","10am-7pm","1pm-4pm","1pm-7pm","7pm-10pm","7pm-7am","10pm-7am"], "axis": null}},
"layer": [
{"mark": "rect", "encoding": {"y": {"field": "d", "type": "nominal", "sort": ["Vehicle","8.5mg/kg","28mg/kg","85mg/kg"], "axis": {"title": ["Rearing", "(s / min)"]}}, "color": {"field": "g", "type": "quantitative", "scale": {"domain": [-6,-4,-2,0,2,4,6], "range": ["#5a8196","#819fb1","#c0cfd7","#f1efef","#e2c3b8","#ca8a74","#b0533a"], "clamp": true}, "legend": {"title": "Deviation from vehicle group (Glass's Delta)", "values": [-6,-4,-2,0,2,4,6], "labelExpr": "datum.value <= -6 ? '≤ -6' : datum.value >= 6 ? '≥ 6' : format(abs(datum.value), 'd')"}}}},
{"mark": {"type": "text", "fontSize": 11.5}, "encoding": {"y": {"field": "d", "type": "nominal", "sort": ["Vehicle","8.5mg/kg","28mg/kg","85mg/kg"], "axis": {"title": ["Rearing", "(s / min)"]}}, "text": {"field": "v", "type": "nominal"}, "color": {"condition": {"test": "abs(datum.g) >= 3.4", "value": "#f7f2f0"}, "value": "#2a2a2a"}}},
{"data": {"name": "sig"}, "transform": [{"filter": "datum.c == 'AZ' && datum.m == 'Rearing' && datum.lv == 'strong'"}], "mark": {"type": "rect", "filled": false, "stroke": "#222", "strokeWidth": 1.2, "strokeDash": [4, 2.5], "width": {"band": 0.93}}, "encoding": {}},
{"data": {"name": "sig"}, "transform": [{"filter": "datum.c == 'AZ' && datum.m == 'Rearing' && datum.lv == 'weak'"}], "mark": {"type": "rect", "filled": false, "stroke": "#333", "strokeWidth": 1.2, "strokeDash": [1.2, 2.2], "width": {"band": 0.93}}, "encoding": {}},
{"data": {"name": "sig"}, "transform": [{"filter": "datum.c == 'AZ' && datum.m == 'Rearing'"}], "mark": {"type": "text", "angle": 270, "dy": 29, "fontSize": 10.5, "color": "#111"}, "encoding": {"text": {"field": "s", "type": "nominal"}}}
]},
{"width": 600, "height": 65, "data": {"name": "cells"}, "transform": [{"filter": "datum.c == 'AZ' && datum.m == 'Temperature'"}],
"encoding": {"x": {"field": "t", "type": "nominal", "sort": ["10am-11am","10am-1pm","10am-7pm","1pm-4pm","1pm-7pm","7pm-10pm","7pm-7am","10pm-7am"], "axis": null}},
"layer": [
{"mark": "rect", "encoding": {"y": {"field": "d", "type": "nominal", "sort": ["Vehicle","8.5mg/kg","28mg/kg","85mg/kg"], "axis": {"title": ["Temperature", "(C)"]}}, "color": {"field": "g", "type": "quantitative", "scale": {"domain": [-6,-4,-2,0,2,4,6], "range": ["#5a8196","#819fb1","#c0cfd7","#f1efef","#e2c3b8","#ca8a74","#b0533a"], "clamp": true}, "legend": {"title": "Deviation from vehicle group (Glass's Delta)", "values": [-6,-4,-2,0,2,4,6], "labelExpr": "datum.value <= -6 ? '≤ -6' : datum.value >= 6 ? '≥ 6' : format(abs(datum.value), 'd')"}}}},
{"mark": {"type": "text", "fontSize": 11.5}, "encoding": {"y": {"field": "d", "type": "nominal", "sort": ["Vehicle","8.5mg/kg","28mg/kg","85mg/kg"], "axis": {"title": ["Temperature", "(C)"]}}, "text": {"field": "v", "type": "nominal"}, "color": {"condition": {"test": "abs(datum.g) >= 3.4", "value": "#f7f2f0"}, "value": "#2a2a2a"}}},
{"data": {"name": "sig"}, "transform": [{"filter": "datum.c == 'AZ' && datum.m == 'Temperature' && datum.lv == 'strong'"}], "mark": {"type": "rect", "filled": false, "stroke": "#222", "strokeWidth": 1.2, "strokeDash": [4, 2.5], "width": {"band": 0.93}}, "encoding": {}},
{"data": {"name": "sig"}, "transform": [{"filter": "datum.c == 'AZ' && datum.m == 'Temperature'"}], "mark": {"type": "text", "angle": 270, "dy": 29, "fontSize": 10.5, "color": "#111"}, "encoding": {"text": {"field": "s", "type": "nominal"}}}
]},
{"width": 600, "height": 65, "data": {"name": "cells"}, "transform": [{"filter": "datum.c == 'AZ' && datum.m == 'Drinking'"}],
"encoding": {"x": {"field": "t", "type": "nominal", "sort": ["10am-11am","10am-1pm","10am-7pm","1pm-4pm","1pm-7pm","7pm-10pm","7pm-7am","10pm-7am"], "axis": null}},
"layer": [
{"mark": "rect", "encoding": {"y": {"field": "d", "type": "nominal", "sort": ["Vehicle","8.5mg/kg","28mg/kg","85mg/kg"], "axis": {"title": ["Drinking", "(s / min)"]}}, "color": {"field": "g", "type": "quantitative", "scale": {"domain": [-6,-4,-2,0,2,4,6], "range": ["#5a8196","#819fb1","#c0cfd7","#f1efef","#e2c3b8","#ca8a74","#b0533a"], "clamp": true}, "legend": {"title": "Deviation from vehicle group (Glass's Delta)", "values": [-6,-4,-2,0,2,4,6], "labelExpr": "datum.value <= -6 ? '≤ -6' : datum.value >= 6 ? '≥ 6' : format(abs(datum.value), 'd')"}}}},
{"mark": {"type": "text", "fontSize": 11.5}, "encoding": {"y": {"field": "d", "type": "nominal", "sort": ["Vehicle","8.5mg/kg","28mg/kg","85mg/kg"], "axis": {"title": ["Drinking", "(s / min)"]}}, "text": {"field": "v", "type": "nominal"}, "color": {"condition": {"test": "abs(datum.g) >= 3.4", "value": "#f7f2f0"}, "value": "#2a2a2a"}}},
{"data": {"name": "sig"}, "transform": [{"filter": "datum.c == 'AZ' && datum.m == 'Drinking' && datum.lv == 'strong'"}], "mark": {"type": "rect", "filled": false, "stroke": "#222", "strokeWidth": 1.2, "strokeDash": [4, 2.5], "width": {"band": 0.93}}, "encoding": {}},
{"data": {"name": "sig"}, "transform": [{"filter": "datum.c == 'AZ' && datum.m == 'Drinking' && datum.lv == 'weak'"}], "mark": {"type": "rect", "filled": false, "stroke": "#333", "strokeWidth": 1.2, "strokeDash": [1.2, 2.2], "width": {"band": 0.93}}, "encoding": {}},
{"data": {"name": "sig"}, "transform": [{"filter": "datum.c == 'AZ' && datum.m == 'Drinking'"}], "mark": {"type": "text", "angle": 270, "dy": 29, "fontSize": 10.5, "color": "#111"}, "encoding": {"text": {"field": "s", "type": "nominal"}}}
]},
{"width": 600, "height": 65, "data": {"name": "cells"}, "transform": [{"filter": "datum.c == 'AZ' && datum.m == 'Separation'"}],
"encoding": {"x": {"field": "t", "type": "nominal", "sort": ["10am-11am","10am-1pm","10am-7pm","1pm-4pm","1pm-7pm","7pm-10pm","7pm-7am","10pm-7am"], "axis": null}},
"layer": [
{"mark": "rect", "encoding": {"y": {"field": "d", "type": "nominal", "sort": ["Vehicle","8.5mg/kg","28mg/kg","85mg/kg"], "axis": {"title": ["Separation", "(cm)"]}}, "color": {"field": "g", "type": "quantitative", "scale": {"domain": [-6,-4,-2,0,2,4,6], "range": ["#5a8196","#819fb1","#c0cfd7","#f1efef","#e2c3b8","#ca8a74","#b0533a"], "clamp": true}, "legend": {"title": "Deviation from vehicle group (Glass's Delta)", "values": [-6,-4,-2,0,2,4,6], "labelExpr": "datum.value <= -6 ? '≤ -6' : datum.value >= 6 ? '≥ 6' : format(abs(datum.value), 'd')"}}}},
{"mark": {"type": "text", "fontSize": 11.5}, "encoding": {"y": {"field": "d", "type": "nominal", "sort": ["Vehicle","8.5mg/kg","28mg/kg","85mg/kg"], "axis": {"title": ["Separation", "(cm)"]}}, "text": {"field": "v", "type": "nominal"}, "color": {"condition": {"test": "abs(datum.g) >= 3.4", "value": "#f7f2f0"}, "value": "#2a2a2a"}}},
{"data": {"name": "sig"}, "transform": [{"filter": "datum.c == 'AZ' && datum.m == 'Separation' && datum.lv == 'weak'"}], "mark": {"type": "rect", "filled": false, "stroke": "#333", "strokeWidth": 1.2, "strokeDash": [1.2, 2.2], "width": {"band": 0.93}}, "encoding": {}},
{"data": {"name": "sig"}, "transform": [{"filter": "datum.c == 'AZ' && datum.m == 'Separation'"}], "mark": {"type": "text", "angle": 270, "dy": 29, "fontSize": 10.5, "color": "#111"}, "encoding": {"text": {"field": "s", "type": "nominal"}}}
]}
]
}
]
}
],
"config": {
"view": {"stroke": null},
"font": "DejaVu Sans Condensed, Liberation Sans Narrow, DejaVu Sans",
"text": {"font": "DejaVu Sans Condensed, Liberation Sans Narrow, DejaVu Sans"},
"axisY": {"labelFont": "DejaVu Sans Condensed, Liberation Sans Narrow, DejaVu Sans", "labelFontSize": 12, "labelColor": "#111", "tickSize": 3, "tickColor": "#333", "tickWidth": 0.8, "domain": false, "labelPadding": 2, "minExtent": 64, "maxExtent": 64, "titleFont": "DejaVu Sans", "titleFontSize": 12, "titleFontWeight": "normal", "titleColor": "#111", "titlePadding": 4, "titleLineHeight": 13},
"legend": {"orient": "none", "legendX": -80, "legendY": 1267, "direction": "horizontal", "gradientLength": 673, "gradientThickness": 12, "titleFont": "Liberation Sans, Arial, sans-serif", "titleFontSize": 13.5, "titleFontWeight": "normal", "titleColor": "#111", "titlePadding": 8, "labelFont": "DejaVu Sans Condensed, Liberation Sans Narrow, DejaVu Sans", "labelFontSize": 12, "labelColor": "#111", "labelAlign": "center", "labelOffset": 4, "titleLimit": 700}
}
}
